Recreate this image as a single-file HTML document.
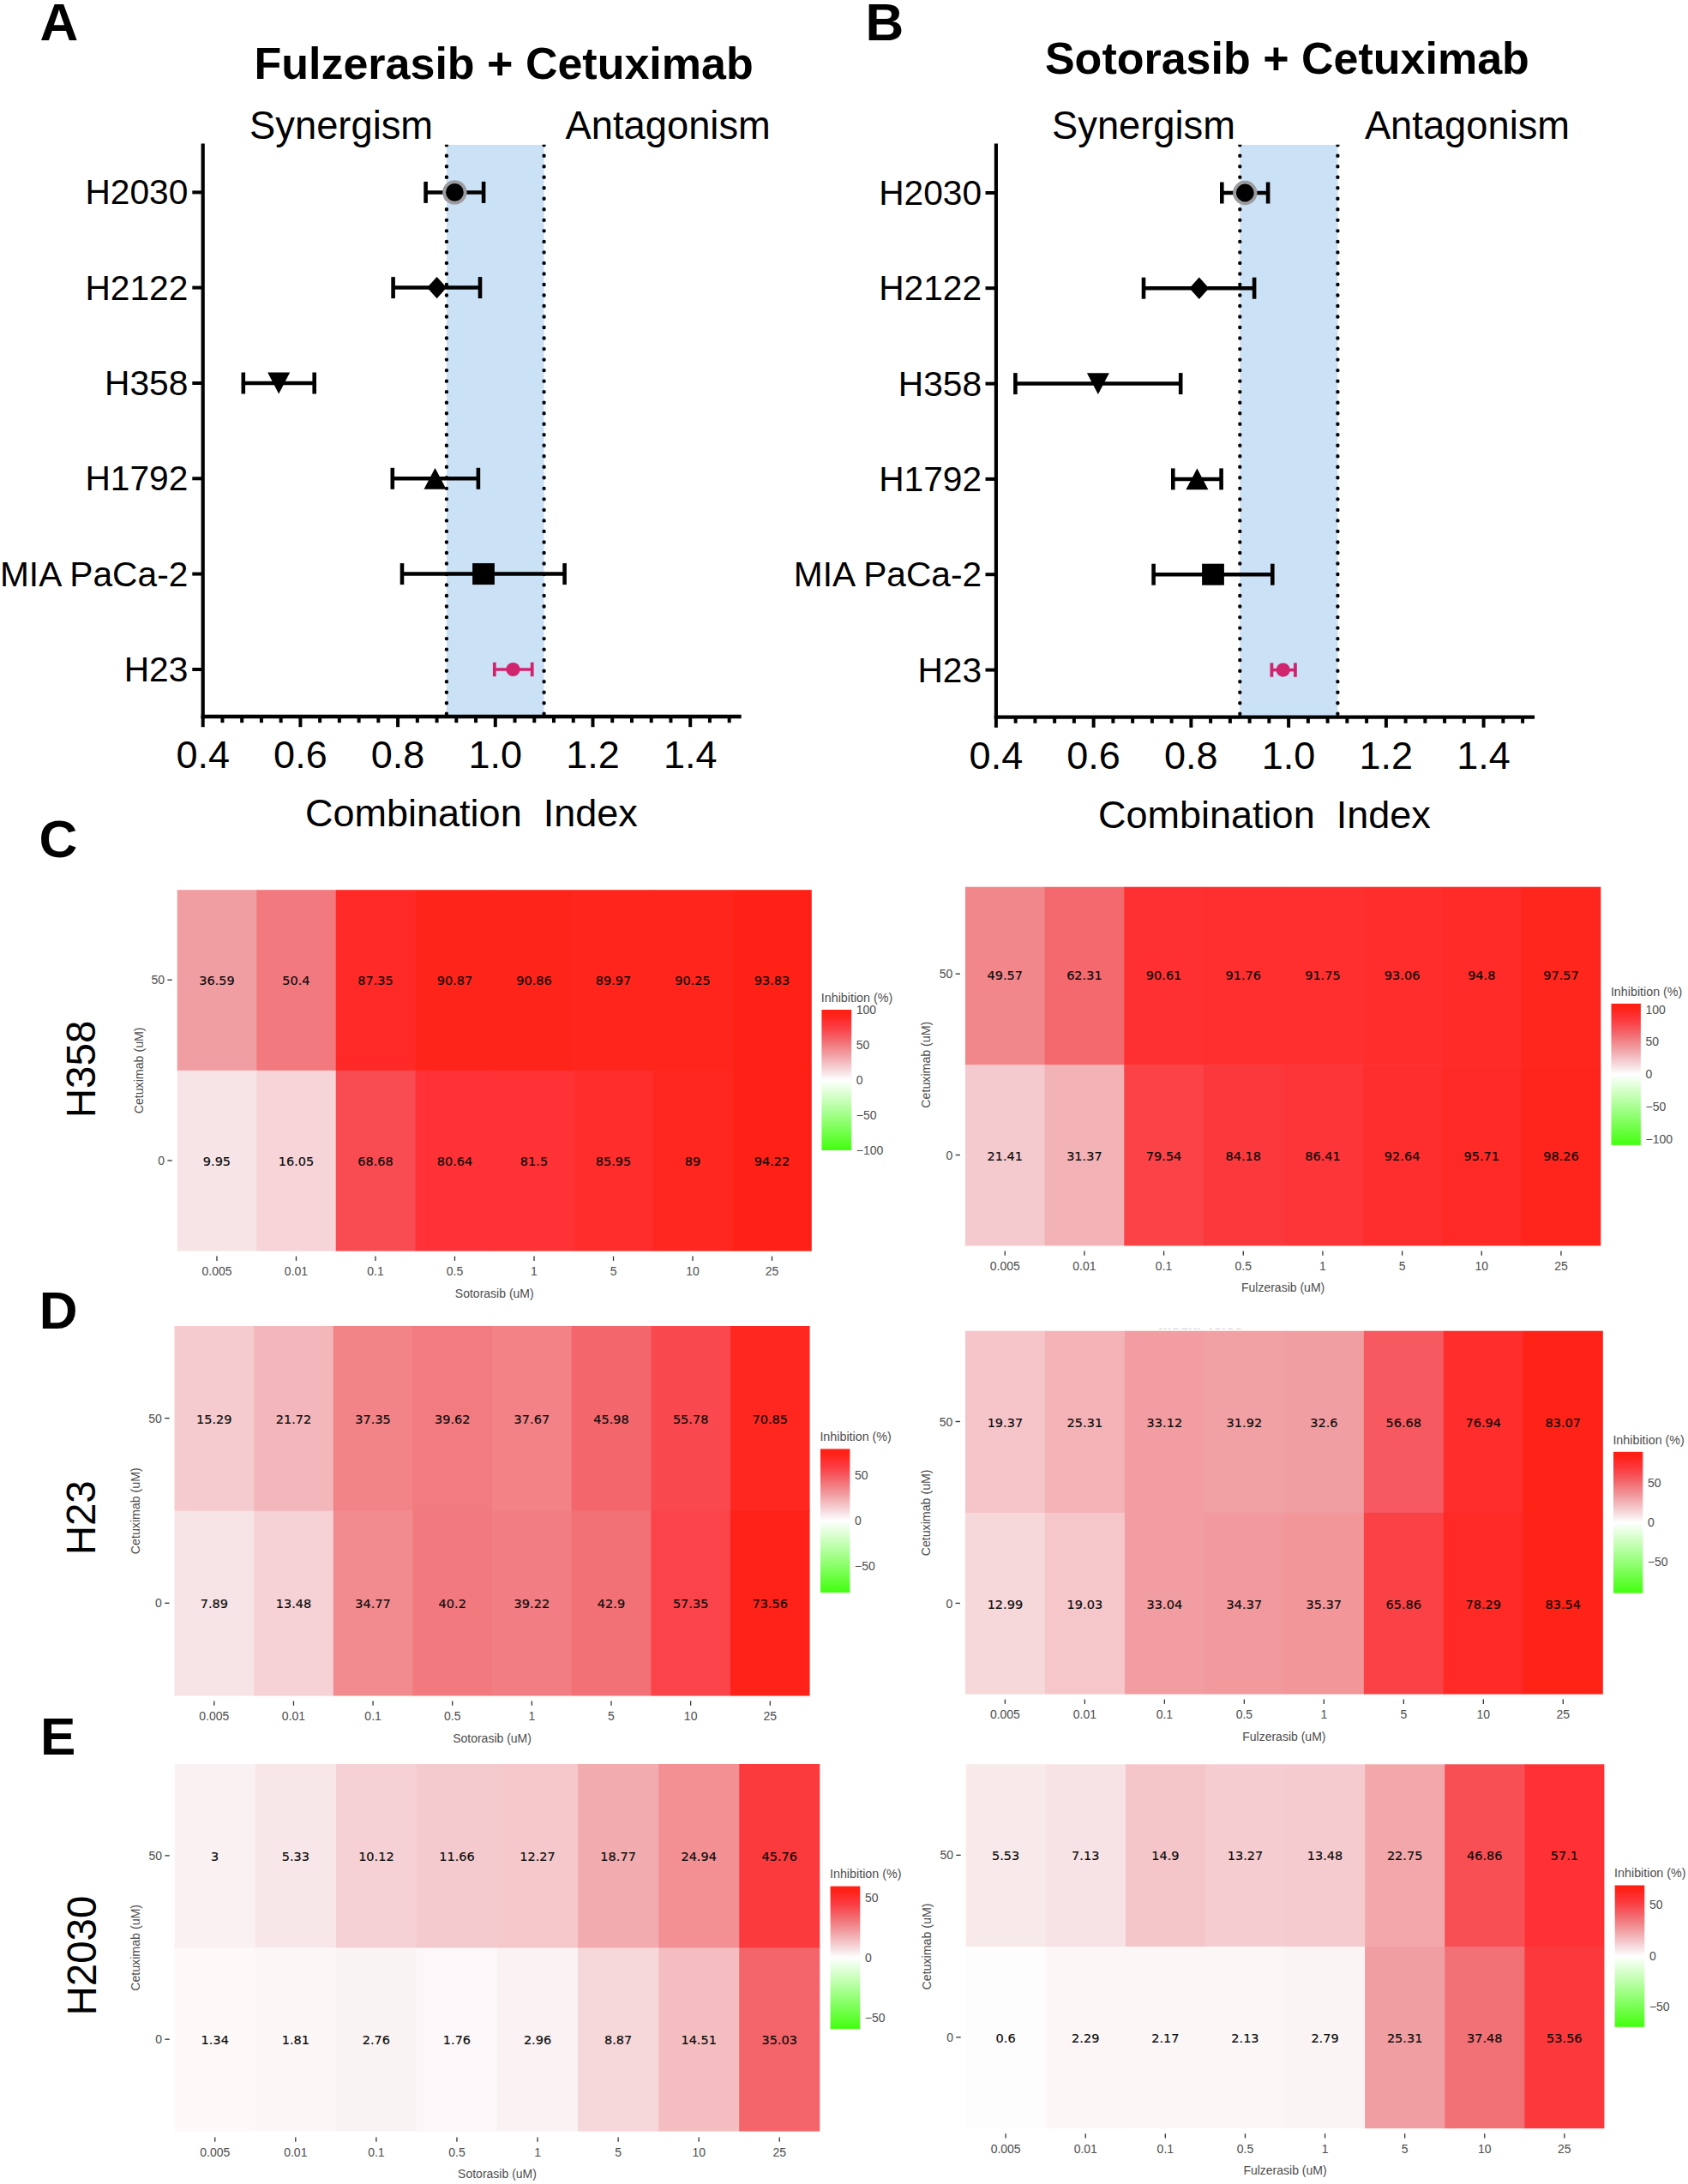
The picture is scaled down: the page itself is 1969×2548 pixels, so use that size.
<!DOCTYPE html>
<html lang="en">
<head>
<meta charset="utf-8">
<title>Combination index and dose-response matrices</title>
<style>
html,body{margin:0;padding:0;background:#fff;}
body{width:1969px;height:2548px;overflow:hidden;}
svg{display:block;}
text{white-space:pre;}
</style>
</head>
<body>
<svg width="1969" height="2548" viewBox="0 0 1969 2548">
<rect x="0" y="0" width="1969" height="2548" fill="#FFFFFF"/>
<clipPath id="cb"><rect x="0" y="168.7" width="1969" height="700"/></clipPath>
<rect x="520.90" y="169.00" width="113.70" height="665.00" fill="#CBE1F6"/>
<line x1="520.90" y1="169.2" x2="520.90" y2="834.00" stroke="#000" stroke-width="4.4" stroke-linecap="round" stroke-dasharray="0 12.52" clip-path="url(#cb)"/>
<line x1="634.60" y1="169.2" x2="634.60" y2="834.00" stroke="#000" stroke-width="4.4" stroke-linecap="round" stroke-dasharray="0 12.52" clip-path="url(#cb)"/>
<line x1="236.70" y1="167.40" x2="236.70" y2="838.20" stroke="#000" stroke-width="4.2" />
<line x1="234.60" y1="836.00" x2="864.65" y2="836.00" stroke="#000" stroke-width="4.4" />
<line x1="236.70" y1="836.00" x2="236.70" y2="848.20" stroke="#000" stroke-width="4.0" />
<text x="236.70" y="896.10" font-family='"Liberation Sans", Arial, Helvetica, sans-serif' font-size="45" font-weight="normal" text-anchor="middle" fill="#000" >0.4</text>
<line x1="259.44" y1="836.00" x2="259.44" y2="843.20" stroke="#000" stroke-width="4.0" />
<line x1="282.18" y1="836.00" x2="282.18" y2="843.20" stroke="#000" stroke-width="4.0" />
<line x1="304.92" y1="836.00" x2="304.92" y2="843.20" stroke="#000" stroke-width="4.0" />
<line x1="327.66" y1="836.00" x2="327.66" y2="843.20" stroke="#000" stroke-width="4.0" />
<line x1="350.40" y1="836.00" x2="350.40" y2="848.20" stroke="#000" stroke-width="4.0" />
<text x="350.40" y="896.10" font-family='"Liberation Sans", Arial, Helvetica, sans-serif' font-size="45" font-weight="normal" text-anchor="middle" fill="#000" >0.6</text>
<line x1="373.14" y1="836.00" x2="373.14" y2="843.20" stroke="#000" stroke-width="4.0" />
<line x1="395.88" y1="836.00" x2="395.88" y2="843.20" stroke="#000" stroke-width="4.0" />
<line x1="418.62" y1="836.00" x2="418.62" y2="843.20" stroke="#000" stroke-width="4.0" />
<line x1="441.36" y1="836.00" x2="441.36" y2="843.20" stroke="#000" stroke-width="4.0" />
<line x1="464.10" y1="836.00" x2="464.10" y2="848.20" stroke="#000" stroke-width="4.0" />
<text x="464.10" y="896.10" font-family='"Liberation Sans", Arial, Helvetica, sans-serif' font-size="45" font-weight="normal" text-anchor="middle" fill="#000" >0.8</text>
<line x1="486.84" y1="836.00" x2="486.84" y2="843.20" stroke="#000" stroke-width="4.0" />
<line x1="509.58" y1="836.00" x2="509.58" y2="843.20" stroke="#000" stroke-width="4.0" />
<line x1="532.32" y1="836.00" x2="532.32" y2="843.20" stroke="#000" stroke-width="4.0" />
<line x1="555.06" y1="836.00" x2="555.06" y2="843.20" stroke="#000" stroke-width="4.0" />
<line x1="577.80" y1="836.00" x2="577.80" y2="848.20" stroke="#000" stroke-width="4.0" />
<text x="577.80" y="896.10" font-family='"Liberation Sans", Arial, Helvetica, sans-serif' font-size="45" font-weight="normal" text-anchor="middle" fill="#000" >1.0</text>
<line x1="600.54" y1="836.00" x2="600.54" y2="843.20" stroke="#000" stroke-width="4.0" />
<line x1="623.28" y1="836.00" x2="623.28" y2="843.20" stroke="#000" stroke-width="4.0" />
<line x1="646.02" y1="836.00" x2="646.02" y2="843.20" stroke="#000" stroke-width="4.0" />
<line x1="668.76" y1="836.00" x2="668.76" y2="843.20" stroke="#000" stroke-width="4.0" />
<line x1="691.50" y1="836.00" x2="691.50" y2="848.20" stroke="#000" stroke-width="4.0" />
<text x="691.50" y="896.10" font-family='"Liberation Sans", Arial, Helvetica, sans-serif' font-size="45" font-weight="normal" text-anchor="middle" fill="#000" >1.2</text>
<line x1="714.24" y1="836.00" x2="714.24" y2="843.20" stroke="#000" stroke-width="4.0" />
<line x1="736.98" y1="836.00" x2="736.98" y2="843.20" stroke="#000" stroke-width="4.0" />
<line x1="759.72" y1="836.00" x2="759.72" y2="843.20" stroke="#000" stroke-width="4.0" />
<line x1="782.46" y1="836.00" x2="782.46" y2="843.20" stroke="#000" stroke-width="4.0" />
<line x1="805.20" y1="836.00" x2="805.20" y2="848.20" stroke="#000" stroke-width="4.0" />
<text x="805.20" y="896.10" font-family='"Liberation Sans", Arial, Helvetica, sans-serif' font-size="45" font-weight="normal" text-anchor="middle" fill="#000" >1.4</text>
<line x1="827.94" y1="836.00" x2="827.94" y2="843.20" stroke="#000" stroke-width="4.0" />
<line x1="850.68" y1="836.00" x2="850.68" y2="843.20" stroke="#000" stroke-width="4.0" />
<line x1="224.30" y1="224.40" x2="236.70" y2="224.40" stroke="#000" stroke-width="4.0" />
<text x="219.30" y="238.40" font-family='"Liberation Sans", Arial, Helvetica, sans-serif' font-size="40.7" font-weight="normal" text-anchor="end" fill="#000" >H2030</text>
<line x1="224.30" y1="335.60" x2="236.70" y2="335.60" stroke="#000" stroke-width="4.0" />
<text x="219.30" y="349.60" font-family='"Liberation Sans", Arial, Helvetica, sans-serif' font-size="40.7" font-weight="normal" text-anchor="end" fill="#000" >H2122</text>
<line x1="224.30" y1="447.00" x2="236.70" y2="447.00" stroke="#000" stroke-width="4.0" />
<text x="219.30" y="461.00" font-family='"Liberation Sans", Arial, Helvetica, sans-serif' font-size="40.7" font-weight="normal" text-anchor="end" fill="#000" >H358</text>
<line x1="224.30" y1="558.30" x2="236.70" y2="558.30" stroke="#000" stroke-width="4.0" />
<text x="219.30" y="572.30" font-family='"Liberation Sans", Arial, Helvetica, sans-serif' font-size="40.7" font-weight="normal" text-anchor="end" fill="#000" >H1792</text>
<line x1="224.30" y1="669.60" x2="236.70" y2="669.60" stroke="#000" stroke-width="4.0" />
<text x="219.30" y="683.60" font-family='"Liberation Sans", Arial, Helvetica, sans-serif' font-size="40.7" font-weight="normal" text-anchor="end" fill="#000" >MIA PaCa-2</text>
<line x1="224.30" y1="781.00" x2="236.70" y2="781.00" stroke="#000" stroke-width="4.0" />
<text x="219.30" y="795.00" font-family='"Liberation Sans", Arial, Helvetica, sans-serif' font-size="40.7" font-weight="normal" text-anchor="end" fill="#000" >H23</text>
<text x="587.60" y="91.80" font-family='"Liberation Sans", Arial, Helvetica, sans-serif' font-size="52" font-weight="bold" text-anchor="middle" fill="#000" >Fulzerasib + Cetuximab</text>
<text x="398.10" y="162.30" font-family='"Liberation Sans", Arial, Helvetica, sans-serif' font-size="45.3" font-weight="normal" text-anchor="middle" fill="#000" >Synergism</text>
<text x="779.20" y="162.30" font-family='"Liberation Sans", Arial, Helvetica, sans-serif' font-size="45.3" font-weight="normal" text-anchor="middle" fill="#000" >Antagonism</text>
<text x="549.90" y="963.70" font-family='"Liberation Sans", Arial, Helvetica, sans-serif' font-size="45" text-anchor="middle" fill="#000" xml:space="preserve">Combination  Index</text>
<line x1="496.60" y1="224.40" x2="564.10" y2="224.40" stroke="#000" stroke-width="4.5" />
<line x1="496.60" y1="211.90" x2="496.60" y2="236.90" stroke="#000" stroke-width="4.6" />
<line x1="564.10" y1="211.90" x2="564.10" y2="236.90" stroke="#000" stroke-width="4.6" />
<circle cx="530.40" cy="224.40" r="12.3" fill="#000" stroke="#9C9CA0" stroke-width="3.8"/>
<line x1="458.60" y1="335.60" x2="560.00" y2="335.60" stroke="#000" stroke-width="4.5" />
<line x1="458.60" y1="323.10" x2="458.60" y2="348.10" stroke="#000" stroke-width="4.6" />
<line x1="560.00" y1="323.10" x2="560.00" y2="348.10" stroke="#000" stroke-width="4.6" />
<polygon points="498.20,335.60 509.60,322.90 521.00,335.60 509.60,348.30" fill="#000"/>
<line x1="283.80" y1="447.00" x2="366.70" y2="447.00" stroke="#000" stroke-width="4.5" />
<line x1="283.80" y1="434.50" x2="283.80" y2="459.50" stroke="#000" stroke-width="4.6" />
<line x1="366.70" y1="434.50" x2="366.70" y2="459.50" stroke="#000" stroke-width="4.6" />
<polygon points="312.20,434.60 338.20,434.60 325.20,459.40" fill="#000"/>
<line x1="457.80" y1="558.30" x2="557.90" y2="558.30" stroke="#000" stroke-width="4.5" />
<line x1="457.80" y1="545.80" x2="457.80" y2="570.80" stroke="#000" stroke-width="4.6" />
<line x1="557.90" y1="545.80" x2="557.90" y2="570.80" stroke="#000" stroke-width="4.6" />
<polygon points="494.50,570.70 520.50,570.70 507.50,545.90" fill="#000"/>
<line x1="469.00" y1="669.60" x2="658.60" y2="669.60" stroke="#000" stroke-width="4.5" />
<line x1="469.00" y1="657.10" x2="469.00" y2="682.10" stroke="#000" stroke-width="4.6" />
<line x1="658.60" y1="657.10" x2="658.60" y2="682.10" stroke="#000" stroke-width="4.6" />
<rect x="551.10" y="657.10" width="25.80" height="25.00" fill="#000"/>
<line x1="576.80" y1="781.00" x2="620.70" y2="781.00" stroke="#D1246E" stroke-width="3.6" />
<line x1="576.80" y1="772.80" x2="576.80" y2="789.20" stroke="#D1246E" stroke-width="3.8" />
<line x1="620.70" y1="772.80" x2="620.70" y2="789.20" stroke="#D1246E" stroke-width="3.8" />
<circle cx="598.50" cy="781.00" r="8.1" fill="#D1246E"/>
<rect x="1446.30" y="169.00" width="114.10" height="665.60" fill="#CBE1F6"/>
<line x1="1446.30" y1="169.2" x2="1446.30" y2="834.60" stroke="#000" stroke-width="4.4" stroke-linecap="round" stroke-dasharray="0 12.52" clip-path="url(#cb)"/>
<line x1="1560.40" y1="169.2" x2="1560.40" y2="834.60" stroke="#000" stroke-width="4.4" stroke-linecap="round" stroke-dasharray="0 12.52" clip-path="url(#cb)"/>
<line x1="1161.90" y1="167.40" x2="1161.90" y2="838.80" stroke="#000" stroke-width="4.2" />
<line x1="1159.80" y1="836.60" x2="1790.07" y2="836.60" stroke="#000" stroke-width="4.4" />
<line x1="1161.90" y1="836.60" x2="1161.90" y2="848.80" stroke="#000" stroke-width="4.0" />
<text x="1161.90" y="897.00" font-family='"Liberation Sans", Arial, Helvetica, sans-serif' font-size="45" font-weight="normal" text-anchor="middle" fill="#000" >0.4</text>
<line x1="1184.65" y1="836.60" x2="1184.65" y2="843.80" stroke="#000" stroke-width="4.0" />
<line x1="1207.40" y1="836.60" x2="1207.40" y2="843.80" stroke="#000" stroke-width="4.0" />
<line x1="1230.14" y1="836.60" x2="1230.14" y2="843.80" stroke="#000" stroke-width="4.0" />
<line x1="1252.89" y1="836.60" x2="1252.89" y2="843.80" stroke="#000" stroke-width="4.0" />
<line x1="1275.64" y1="836.60" x2="1275.64" y2="848.80" stroke="#000" stroke-width="4.0" />
<text x="1275.64" y="897.00" font-family='"Liberation Sans", Arial, Helvetica, sans-serif' font-size="45" font-weight="normal" text-anchor="middle" fill="#000" >0.6</text>
<line x1="1298.39" y1="836.60" x2="1298.39" y2="843.80" stroke="#000" stroke-width="4.0" />
<line x1="1321.14" y1="836.60" x2="1321.14" y2="843.80" stroke="#000" stroke-width="4.0" />
<line x1="1343.88" y1="836.60" x2="1343.88" y2="843.80" stroke="#000" stroke-width="4.0" />
<line x1="1366.63" y1="836.60" x2="1366.63" y2="843.80" stroke="#000" stroke-width="4.0" />
<line x1="1389.38" y1="836.60" x2="1389.38" y2="848.80" stroke="#000" stroke-width="4.0" />
<text x="1389.38" y="897.00" font-family='"Liberation Sans", Arial, Helvetica, sans-serif' font-size="45" font-weight="normal" text-anchor="middle" fill="#000" >0.8</text>
<line x1="1412.13" y1="836.60" x2="1412.13" y2="843.80" stroke="#000" stroke-width="4.0" />
<line x1="1434.88" y1="836.60" x2="1434.88" y2="843.80" stroke="#000" stroke-width="4.0" />
<line x1="1457.62" y1="836.60" x2="1457.62" y2="843.80" stroke="#000" stroke-width="4.0" />
<line x1="1480.37" y1="836.60" x2="1480.37" y2="843.80" stroke="#000" stroke-width="4.0" />
<line x1="1503.12" y1="836.60" x2="1503.12" y2="848.80" stroke="#000" stroke-width="4.0" />
<text x="1503.12" y="897.00" font-family='"Liberation Sans", Arial, Helvetica, sans-serif' font-size="45" font-weight="normal" text-anchor="middle" fill="#000" >1.0</text>
<line x1="1525.87" y1="836.60" x2="1525.87" y2="843.80" stroke="#000" stroke-width="4.0" />
<line x1="1548.62" y1="836.60" x2="1548.62" y2="843.80" stroke="#000" stroke-width="4.0" />
<line x1="1571.36" y1="836.60" x2="1571.36" y2="843.80" stroke="#000" stroke-width="4.0" />
<line x1="1594.11" y1="836.60" x2="1594.11" y2="843.80" stroke="#000" stroke-width="4.0" />
<line x1="1616.86" y1="836.60" x2="1616.86" y2="848.80" stroke="#000" stroke-width="4.0" />
<text x="1616.86" y="897.00" font-family='"Liberation Sans", Arial, Helvetica, sans-serif' font-size="45" font-weight="normal" text-anchor="middle" fill="#000" >1.2</text>
<line x1="1639.61" y1="836.60" x2="1639.61" y2="843.80" stroke="#000" stroke-width="4.0" />
<line x1="1662.36" y1="836.60" x2="1662.36" y2="843.80" stroke="#000" stroke-width="4.0" />
<line x1="1685.10" y1="836.60" x2="1685.10" y2="843.80" stroke="#000" stroke-width="4.0" />
<line x1="1707.85" y1="836.60" x2="1707.85" y2="843.80" stroke="#000" stroke-width="4.0" />
<line x1="1730.60" y1="836.60" x2="1730.60" y2="848.80" stroke="#000" stroke-width="4.0" />
<text x="1730.60" y="897.00" font-family='"Liberation Sans", Arial, Helvetica, sans-serif' font-size="45" font-weight="normal" text-anchor="middle" fill="#000" >1.4</text>
<line x1="1753.35" y1="836.60" x2="1753.35" y2="843.80" stroke="#000" stroke-width="4.0" />
<line x1="1776.10" y1="836.60" x2="1776.10" y2="843.80" stroke="#000" stroke-width="4.0" />
<line x1="1149.50" y1="225.00" x2="1161.90" y2="225.00" stroke="#000" stroke-width="4.0" />
<text x="1145.10" y="239.00" font-family='"Liberation Sans", Arial, Helvetica, sans-serif' font-size="40.7" font-weight="normal" text-anchor="end" fill="#000" >H2030</text>
<line x1="1149.50" y1="336.20" x2="1161.90" y2="336.20" stroke="#000" stroke-width="4.0" />
<text x="1145.10" y="350.20" font-family='"Liberation Sans", Arial, Helvetica, sans-serif' font-size="40.7" font-weight="normal" text-anchor="end" fill="#000" >H2122</text>
<line x1="1149.50" y1="447.60" x2="1161.90" y2="447.60" stroke="#000" stroke-width="4.0" />
<text x="1145.10" y="461.60" font-family='"Liberation Sans", Arial, Helvetica, sans-serif' font-size="40.7" font-weight="normal" text-anchor="end" fill="#000" >H358</text>
<line x1="1149.50" y1="558.90" x2="1161.90" y2="558.90" stroke="#000" stroke-width="4.0" />
<text x="1145.10" y="572.90" font-family='"Liberation Sans", Arial, Helvetica, sans-serif' font-size="40.7" font-weight="normal" text-anchor="end" fill="#000" >H1792</text>
<line x1="1149.50" y1="670.20" x2="1161.90" y2="670.20" stroke="#000" stroke-width="4.0" />
<text x="1145.10" y="684.20" font-family='"Liberation Sans", Arial, Helvetica, sans-serif' font-size="40.7" font-weight="normal" text-anchor="end" fill="#000" >MIA PaCa-2</text>
<line x1="1149.50" y1="781.60" x2="1161.90" y2="781.60" stroke="#000" stroke-width="4.0" />
<text x="1145.10" y="795.60" font-family='"Liberation Sans", Arial, Helvetica, sans-serif' font-size="40.7" font-weight="normal" text-anchor="end" fill="#000" >H23</text>
<text x="1501.40" y="86.10" font-family='"Liberation Sans", Arial, Helvetica, sans-serif' font-size="52" font-weight="bold" text-anchor="middle" fill="#000" >Sotorasib + Cetuximab</text>
<text x="1334.00" y="162.30" font-family='"Liberation Sans", Arial, Helvetica, sans-serif' font-size="45.3" font-weight="normal" text-anchor="middle" fill="#000" >Synergism</text>
<text x="1711.50" y="162.30" font-family='"Liberation Sans", Arial, Helvetica, sans-serif' font-size="45.3" font-weight="normal" text-anchor="middle" fill="#000" >Antagonism</text>
<text x="1474.90" y="965.80" font-family='"Liberation Sans", Arial, Helvetica, sans-serif' font-size="45" text-anchor="middle" fill="#000" xml:space="preserve">Combination  Index</text>
<line x1="1425.30" y1="225.00" x2="1479.10" y2="225.00" stroke="#000" stroke-width="4.5" />
<line x1="1425.30" y1="212.50" x2="1425.30" y2="237.50" stroke="#000" stroke-width="4.6" />
<line x1="1479.10" y1="212.50" x2="1479.10" y2="237.50" stroke="#000" stroke-width="4.6" />
<circle cx="1452.30" cy="225.00" r="12.3" fill="#000" stroke="#9C9CA0" stroke-width="3.8"/>
<line x1="1334.00" y1="336.20" x2="1463.10" y2="336.20" stroke="#000" stroke-width="4.5" />
<line x1="1334.00" y1="323.70" x2="1334.00" y2="348.70" stroke="#000" stroke-width="4.6" />
<line x1="1463.10" y1="323.70" x2="1463.10" y2="348.70" stroke="#000" stroke-width="4.6" />
<polygon points="1387.40,336.20 1398.80,323.50 1410.20,336.20 1398.80,348.90" fill="#000"/>
<line x1="1184.40" y1="447.60" x2="1377.20" y2="447.60" stroke="#000" stroke-width="4.5" />
<line x1="1184.40" y1="435.10" x2="1184.40" y2="460.10" stroke="#000" stroke-width="4.6" />
<line x1="1377.20" y1="435.10" x2="1377.20" y2="460.10" stroke="#000" stroke-width="4.6" />
<polygon points="1267.90,435.20 1293.90,435.20 1280.90,460.00" fill="#000"/>
<line x1="1368.30" y1="558.90" x2="1424.60" y2="558.90" stroke="#000" stroke-width="4.5" />
<line x1="1368.30" y1="546.40" x2="1368.30" y2="571.40" stroke="#000" stroke-width="4.6" />
<line x1="1424.60" y1="546.40" x2="1424.60" y2="571.40" stroke="#000" stroke-width="4.6" />
<polygon points="1383.40,571.30 1409.40,571.30 1396.40,546.50" fill="#000"/>
<line x1="1345.60" y1="670.20" x2="1484.30" y2="670.20" stroke="#000" stroke-width="4.5" />
<line x1="1345.60" y1="657.70" x2="1345.60" y2="682.70" stroke="#000" stroke-width="4.6" />
<line x1="1484.30" y1="657.70" x2="1484.30" y2="682.70" stroke="#000" stroke-width="4.6" />
<rect x="1402.10" y="657.70" width="25.80" height="25.00" fill="#000"/>
<line x1="1483.40" y1="781.60" x2="1510.90" y2="781.60" stroke="#D1246E" stroke-width="3.6" />
<line x1="1483.40" y1="773.40" x2="1483.40" y2="789.80" stroke="#D1246E" stroke-width="3.8" />
<line x1="1510.90" y1="773.40" x2="1510.90" y2="789.80" stroke="#D1246E" stroke-width="3.8" />
<circle cx="1496.70" cy="781.60" r="8.1" fill="#D1246E"/>
<text x="46.60" y="47.40" font-family='"Liberation Sans", Arial, Helvetica, sans-serif' font-size="62" font-weight="bold" text-anchor="start" fill="#000" >A</text>
<text x="1009.40" y="46.80" font-family='"Liberation Sans", Arial, Helvetica, sans-serif' font-size="62" font-weight="bold" text-anchor="start" fill="#000" >B</text>
<text x="45.60" y="1000.00" font-family='"Liberation Sans", Arial, Helvetica, sans-serif' font-size="62" font-weight="bold" text-anchor="start" fill="#000" >C</text>
<text x="45.80" y="1550.40" font-family='"Liberation Sans", Arial, Helvetica, sans-serif' font-size="62" font-weight="bold" text-anchor="start" fill="#000" >D</text>
<text x="46.90" y="2046.70" font-family='"Liberation Sans", Arial, Helvetica, sans-serif' font-size="62" font-weight="bold" text-anchor="start" fill="#000" >E</text>
<rect x="206.70" y="1038.20" width="93.11" height="211.30" fill="#F19EA2"/>
<rect x="299.21" y="1038.20" width="93.11" height="211.30" fill="#F27A7F"/>
<rect x="391.72" y="1038.20" width="93.11" height="211.30" fill="#FF2A27"/>
<rect x="484.24" y="1038.20" width="93.11" height="211.30" fill="#FF241A"/>
<rect x="576.75" y="1038.20" width="93.11" height="211.30" fill="#FF241A"/>
<rect x="669.26" y="1038.20" width="93.11" height="211.30" fill="#FF251C"/>
<rect x="761.77" y="1038.20" width="93.11" height="211.30" fill="#FF251C"/>
<rect x="854.29" y="1038.20" width="92.51" height="211.30" fill="#FF2115"/>
<rect x="206.70" y="1248.90" width="93.11" height="210.70" fill="#F7E4E6"/>
<rect x="299.21" y="1248.90" width="93.11" height="210.70" fill="#F6D4D7"/>
<rect x="391.72" y="1248.90" width="93.11" height="210.70" fill="#F94C52"/>
<rect x="484.24" y="1248.90" width="93.11" height="210.70" fill="#FF3337"/>
<rect x="576.75" y="1248.90" width="93.11" height="210.70" fill="#FF3235"/>
<rect x="669.26" y="1248.90" width="93.11" height="210.70" fill="#FF2D2C"/>
<rect x="761.77" y="1248.90" width="93.11" height="210.70" fill="#FF2720"/>
<rect x="854.29" y="1248.90" width="92.51" height="210.70" fill="#FF2115"/>
<text x="252.96" y="1149.35" font-family='"DejaVu Sans", Verdana, "Liberation Sans", sans-serif' font-size="14.5" font-weight="normal" text-anchor="middle" fill="#0A0A0A" stroke="#0A0A0A" stroke-width="0.18">36.59</text>
<text x="345.47" y="1149.35" font-family='"DejaVu Sans", Verdana, "Liberation Sans", sans-serif' font-size="14.5" font-weight="normal" text-anchor="middle" fill="#0A0A0A" stroke="#0A0A0A" stroke-width="0.18">50.4</text>
<text x="437.98" y="1149.35" font-family='"DejaVu Sans", Verdana, "Liberation Sans", sans-serif' font-size="14.5" font-weight="normal" text-anchor="middle" fill="#0A0A0A" stroke="#0A0A0A" stroke-width="0.18">87.35</text>
<text x="530.49" y="1149.35" font-family='"DejaVu Sans", Verdana, "Liberation Sans", sans-serif' font-size="14.5" font-weight="normal" text-anchor="middle" fill="#0A0A0A" stroke="#0A0A0A" stroke-width="0.18">90.87</text>
<text x="623.01" y="1149.35" font-family='"DejaVu Sans", Verdana, "Liberation Sans", sans-serif' font-size="14.5" font-weight="normal" text-anchor="middle" fill="#0A0A0A" stroke="#0A0A0A" stroke-width="0.18">90.86</text>
<text x="715.52" y="1149.35" font-family='"DejaVu Sans", Verdana, "Liberation Sans", sans-serif' font-size="14.5" font-weight="normal" text-anchor="middle" fill="#0A0A0A" stroke="#0A0A0A" stroke-width="0.18">89.97</text>
<text x="808.03" y="1149.35" font-family='"DejaVu Sans", Verdana, "Liberation Sans", sans-serif' font-size="14.5" font-weight="normal" text-anchor="middle" fill="#0A0A0A" stroke="#0A0A0A" stroke-width="0.18">90.25</text>
<text x="900.54" y="1149.35" font-family='"DejaVu Sans", Verdana, "Liberation Sans", sans-serif' font-size="14.5" font-weight="normal" text-anchor="middle" fill="#0A0A0A" stroke="#0A0A0A" stroke-width="0.18">93.83</text>
<line x1="195.40" y1="1143.25" x2="200.80" y2="1143.25" stroke="#333333" stroke-width="1.3" />
<text transform="translate(192.10 1148.35) scale(1 1.04)" x="0" y="0" font-family='"Liberation Sans", Arial, Helvetica, sans-serif' font-size="14" font-weight="normal" text-anchor="end" fill="#4D4D4D" >50</text>
<text x="252.96" y="1360.05" font-family='"DejaVu Sans", Verdana, "Liberation Sans", sans-serif' font-size="14.5" font-weight="normal" text-anchor="middle" fill="#0A0A0A" stroke="#0A0A0A" stroke-width="0.18">9.95</text>
<text x="345.47" y="1360.05" font-family='"DejaVu Sans", Verdana, "Liberation Sans", sans-serif' font-size="14.5" font-weight="normal" text-anchor="middle" fill="#0A0A0A" stroke="#0A0A0A" stroke-width="0.18">16.05</text>
<text x="437.98" y="1360.05" font-family='"DejaVu Sans", Verdana, "Liberation Sans", sans-serif' font-size="14.5" font-weight="normal" text-anchor="middle" fill="#0A0A0A" stroke="#0A0A0A" stroke-width="0.18">68.68</text>
<text x="530.49" y="1360.05" font-family='"DejaVu Sans", Verdana, "Liberation Sans", sans-serif' font-size="14.5" font-weight="normal" text-anchor="middle" fill="#0A0A0A" stroke="#0A0A0A" stroke-width="0.18">80.64</text>
<text x="623.01" y="1360.05" font-family='"DejaVu Sans", Verdana, "Liberation Sans", sans-serif' font-size="14.5" font-weight="normal" text-anchor="middle" fill="#0A0A0A" stroke="#0A0A0A" stroke-width="0.18">81.5</text>
<text x="715.52" y="1360.05" font-family='"DejaVu Sans", Verdana, "Liberation Sans", sans-serif' font-size="14.5" font-weight="normal" text-anchor="middle" fill="#0A0A0A" stroke="#0A0A0A" stroke-width="0.18">85.95</text>
<text x="808.03" y="1360.05" font-family='"DejaVu Sans", Verdana, "Liberation Sans", sans-serif' font-size="14.5" font-weight="normal" text-anchor="middle" fill="#0A0A0A" stroke="#0A0A0A" stroke-width="0.18">89</text>
<text x="900.54" y="1360.05" font-family='"DejaVu Sans", Verdana, "Liberation Sans", sans-serif' font-size="14.5" font-weight="normal" text-anchor="middle" fill="#0A0A0A" stroke="#0A0A0A" stroke-width="0.18">94.22</text>
<line x1="195.40" y1="1353.95" x2="200.80" y2="1353.95" stroke="#333333" stroke-width="1.3" />
<text transform="translate(192.10 1359.05) scale(1 1.04)" x="0" y="0" font-family='"Liberation Sans", Arial, Helvetica, sans-serif' font-size="14" font-weight="normal" text-anchor="end" fill="#4D4D4D" >0</text>
<line x1="252.96" y1="1465.60" x2="252.96" y2="1470.90" stroke="#333333" stroke-width="1.3" />
<text transform="translate(252.96 1488.20) scale(1 1.04)" x="0" y="0" font-family='"Liberation Sans", Arial, Helvetica, sans-serif' font-size="14" font-weight="normal" text-anchor="middle" fill="#4D4D4D" >0.005</text>
<line x1="345.47" y1="1465.60" x2="345.47" y2="1470.90" stroke="#333333" stroke-width="1.3" />
<text transform="translate(345.47 1488.20) scale(1 1.04)" x="0" y="0" font-family='"Liberation Sans", Arial, Helvetica, sans-serif' font-size="14" font-weight="normal" text-anchor="middle" fill="#4D4D4D" >0.01</text>
<line x1="437.98" y1="1465.60" x2="437.98" y2="1470.90" stroke="#333333" stroke-width="1.3" />
<text transform="translate(437.98 1488.20) scale(1 1.04)" x="0" y="0" font-family='"Liberation Sans", Arial, Helvetica, sans-serif' font-size="14" font-weight="normal" text-anchor="middle" fill="#4D4D4D" >0.1</text>
<line x1="530.49" y1="1465.60" x2="530.49" y2="1470.90" stroke="#333333" stroke-width="1.3" />
<text transform="translate(530.49 1488.20) scale(1 1.04)" x="0" y="0" font-family='"Liberation Sans", Arial, Helvetica, sans-serif' font-size="14" font-weight="normal" text-anchor="middle" fill="#4D4D4D" >0.5</text>
<line x1="623.01" y1="1465.60" x2="623.01" y2="1470.90" stroke="#333333" stroke-width="1.3" />
<text transform="translate(623.01 1488.20) scale(1 1.04)" x="0" y="0" font-family='"Liberation Sans", Arial, Helvetica, sans-serif' font-size="14" font-weight="normal" text-anchor="middle" fill="#4D4D4D" >1</text>
<line x1="715.52" y1="1465.60" x2="715.52" y2="1470.90" stroke="#333333" stroke-width="1.3" />
<text transform="translate(715.52 1488.20) scale(1 1.04)" x="0" y="0" font-family='"Liberation Sans", Arial, Helvetica, sans-serif' font-size="14" font-weight="normal" text-anchor="middle" fill="#4D4D4D" >5</text>
<line x1="808.03" y1="1465.60" x2="808.03" y2="1470.90" stroke="#333333" stroke-width="1.3" />
<text transform="translate(808.03 1488.20) scale(1 1.04)" x="0" y="0" font-family='"Liberation Sans", Arial, Helvetica, sans-serif' font-size="14" font-weight="normal" text-anchor="middle" fill="#4D4D4D" >10</text>
<line x1="900.54" y1="1465.60" x2="900.54" y2="1470.90" stroke="#333333" stroke-width="1.3" />
<text transform="translate(900.54 1488.20) scale(1 1.04)" x="0" y="0" font-family='"Liberation Sans", Arial, Helvetica, sans-serif' font-size="14" font-weight="normal" text-anchor="middle" fill="#4D4D4D" >25</text>
<text x="576.75" y="1513.60" font-family='"Liberation Sans", Arial, Helvetica, sans-serif' font-size="14" font-weight="normal" text-anchor="middle" fill="#4D4D4D" >Sotorasib (uM)</text>
<text transform="translate(161.90 1248.90) rotate(-90)" x="0" y="5.00" font-family='"Liberation Sans", Arial, Helvetica, sans-serif' font-size="14.2" text-anchor="middle" fill="#4D4D4D">Cetuximab (uM)</text>
<linearGradient id="g1" x1="0" y1="0" x2="0" y2="1"><stop offset="0.0000" stop-color="#FF2116"/><stop offset="0.0208" stop-color="#FF2115"/><stop offset="0.0417" stop-color="#FF2319"/><stop offset="0.0625" stop-color="#FF2A26"/><stop offset="0.0833" stop-color="#FF3031"/><stop offset="0.1042" stop-color="#FD3539"/><stop offset="0.1250" stop-color="#FA3E42"/><stop offset="0.1458" stop-color="#F9474C"/><stop offset="0.1667" stop-color="#F85157"/><stop offset="0.1875" stop-color="#F55B61"/><stop offset="0.2083" stop-color="#F3666B"/><stop offset="0.2292" stop-color="#F27075"/><stop offset="0.2500" stop-color="#F27B80"/><stop offset="0.2708" stop-color="#F2868A"/><stop offset="0.2917" stop-color="#F29094"/><stop offset="0.3125" stop-color="#F19B9F"/><stop offset="0.3333" stop-color="#F2A6AA"/><stop offset="0.3542" stop-color="#F2B1B5"/><stop offset="0.3750" stop-color="#F4BCC0"/><stop offset="0.3958" stop-color="#F5C7CB"/><stop offset="0.4167" stop-color="#F6D2D6"/><stop offset="0.4375" stop-color="#F6DDE0"/><stop offset="0.4583" stop-color="#F8E9EA"/><stop offset="0.4792" stop-color="#FBF4F5"/><stop offset="0.5000" stop-color="#FFFFFF"/><stop offset="0.5208" stop-color="#F7FFF5"/><stop offset="0.5417" stop-color="#EFFFEB"/><stop offset="0.5625" stop-color="#E7FFE1"/><stop offset="0.5833" stop-color="#E0FFD7"/><stop offset="0.6042" stop-color="#D8FFCD"/><stop offset="0.6250" stop-color="#D0FFC3"/><stop offset="0.6458" stop-color="#C8FFB9"/><stop offset="0.6667" stop-color="#C0FFAF"/><stop offset="0.6875" stop-color="#B8FFA5"/><stop offset="0.7083" stop-color="#B0FF9B"/><stop offset="0.7292" stop-color="#A8FF91"/><stop offset="0.7500" stop-color="#A0FF86"/><stop offset="0.7708" stop-color="#99FF7C"/><stop offset="0.7917" stop-color="#91FF72"/><stop offset="0.8125" stop-color="#89FF68"/><stop offset="0.8333" stop-color="#81FF5E"/><stop offset="0.8542" stop-color="#79FF54"/><stop offset="0.8750" stop-color="#71FF4A"/><stop offset="0.8958" stop-color="#69FF40"/><stop offset="0.9167" stop-color="#62FF36"/><stop offset="0.9375" stop-color="#5AFF2C"/><stop offset="0.9583" stop-color="#52FF22"/><stop offset="0.9792" stop-color="#4AFF18"/><stop offset="1.0000" stop-color="#42FF0E"/></linearGradient>
<rect x="958.40" y="1178.00" width="34.80" height="164.00" fill="url(#g1)"/>
<text x="957.80" y="1168.80" font-family='"Liberation Sans", Arial, Helvetica, sans-serif' font-size="14.3" font-weight="normal" text-anchor="start" fill="#4D4D4D" >Inhibition (%)</text>
<text x="998.80" y="1182.80" font-family='"Liberation Sans", Arial, Helvetica, sans-serif' font-size="14" font-weight="normal" text-anchor="start" fill="#4D4D4D" >100</text>
<text x="998.80" y="1223.80" font-family='"Liberation Sans", Arial, Helvetica, sans-serif' font-size="14" font-weight="normal" text-anchor="start" fill="#4D4D4D" >50</text>
<text x="998.80" y="1264.80" font-family='"Liberation Sans", Arial, Helvetica, sans-serif' font-size="14" font-weight="normal" text-anchor="start" fill="#4D4D4D" >0</text>
<text x="998.80" y="1305.80" font-family='"Liberation Sans", Arial, Helvetica, sans-serif' font-size="14" font-weight="normal" text-anchor="start" fill="#4D4D4D" >−50</text>
<text x="998.80" y="1346.80" font-family='"Liberation Sans", Arial, Helvetica, sans-serif' font-size="14" font-weight="normal" text-anchor="start" fill="#4D4D4D" >−100</text>
<rect x="1125.90" y="1034.70" width="93.27" height="208.10" fill="#F2878B"/>
<rect x="1218.58" y="1034.70" width="93.27" height="208.10" fill="#F3696E"/>
<rect x="1311.25" y="1034.70" width="93.28" height="208.10" fill="#FF3032"/>
<rect x="1403.93" y="1034.70" width="93.27" height="208.10" fill="#FF2F30"/>
<rect x="1496.60" y="1034.70" width="93.28" height="208.10" fill="#FF2F30"/>
<rect x="1589.28" y="1034.70" width="93.27" height="208.10" fill="#FF2E2D"/>
<rect x="1681.95" y="1034.70" width="93.27" height="208.10" fill="#FF2B28"/>
<rect x="1774.62" y="1034.70" width="92.67" height="208.10" fill="#FF261E"/>
<rect x="1125.90" y="1242.20" width="93.27" height="211.20" fill="#F5CACE"/>
<rect x="1218.58" y="1242.20" width="93.27" height="211.20" fill="#F3B2B6"/>
<rect x="1311.25" y="1242.20" width="93.28" height="211.20" fill="#FA4247"/>
<rect x="1403.93" y="1242.20" width="93.27" height="211.20" fill="#FB393C"/>
<rect x="1496.60" y="1242.20" width="93.28" height="211.20" fill="#FD3539"/>
<rect x="1589.28" y="1242.20" width="93.27" height="211.20" fill="#FF2E2E"/>
<rect x="1681.95" y="1242.20" width="93.27" height="211.20" fill="#FF2925"/>
<rect x="1774.62" y="1242.20" width="92.67" height="211.20" fill="#FF251C"/>
<text x="1172.24" y="1142.65" font-family='"DejaVu Sans", Verdana, "Liberation Sans", sans-serif' font-size="14.5" font-weight="normal" text-anchor="middle" fill="#0A0A0A" stroke="#0A0A0A" stroke-width="0.18">49.57</text>
<text x="1264.91" y="1142.65" font-family='"DejaVu Sans", Verdana, "Liberation Sans", sans-serif' font-size="14.5" font-weight="normal" text-anchor="middle" fill="#0A0A0A" stroke="#0A0A0A" stroke-width="0.18">62.31</text>
<text x="1357.59" y="1142.65" font-family='"DejaVu Sans", Verdana, "Liberation Sans", sans-serif' font-size="14.5" font-weight="normal" text-anchor="middle" fill="#0A0A0A" stroke="#0A0A0A" stroke-width="0.18">90.61</text>
<text x="1450.26" y="1142.65" font-family='"DejaVu Sans", Verdana, "Liberation Sans", sans-serif' font-size="14.5" font-weight="normal" text-anchor="middle" fill="#0A0A0A" stroke="#0A0A0A" stroke-width="0.18">91.76</text>
<text x="1542.94" y="1142.65" font-family='"DejaVu Sans", Verdana, "Liberation Sans", sans-serif' font-size="14.5" font-weight="normal" text-anchor="middle" fill="#0A0A0A" stroke="#0A0A0A" stroke-width="0.18">91.75</text>
<text x="1635.61" y="1142.65" font-family='"DejaVu Sans", Verdana, "Liberation Sans", sans-serif' font-size="14.5" font-weight="normal" text-anchor="middle" fill="#0A0A0A" stroke="#0A0A0A" stroke-width="0.18">93.06</text>
<text x="1728.29" y="1142.65" font-family='"DejaVu Sans", Verdana, "Liberation Sans", sans-serif' font-size="14.5" font-weight="normal" text-anchor="middle" fill="#0A0A0A" stroke="#0A0A0A" stroke-width="0.18">94.8</text>
<text x="1820.96" y="1142.65" font-family='"DejaVu Sans", Verdana, "Liberation Sans", sans-serif' font-size="14.5" font-weight="normal" text-anchor="middle" fill="#0A0A0A" stroke="#0A0A0A" stroke-width="0.18">97.57</text>
<line x1="1114.60" y1="1136.15" x2="1120.00" y2="1136.15" stroke="#333333" stroke-width="1.3" />
<text transform="translate(1111.30 1141.25) scale(1 1.04)" x="0" y="0" font-family='"Liberation Sans", Arial, Helvetica, sans-serif' font-size="14" font-weight="normal" text-anchor="end" fill="#4D4D4D" >50</text>
<text x="1172.24" y="1353.60" font-family='"DejaVu Sans", Verdana, "Liberation Sans", sans-serif' font-size="14.5" font-weight="normal" text-anchor="middle" fill="#0A0A0A" stroke="#0A0A0A" stroke-width="0.18">21.41</text>
<text x="1264.91" y="1353.60" font-family='"DejaVu Sans", Verdana, "Liberation Sans", sans-serif' font-size="14.5" font-weight="normal" text-anchor="middle" fill="#0A0A0A" stroke="#0A0A0A" stroke-width="0.18">31.37</text>
<text x="1357.59" y="1353.60" font-family='"DejaVu Sans", Verdana, "Liberation Sans", sans-serif' font-size="14.5" font-weight="normal" text-anchor="middle" fill="#0A0A0A" stroke="#0A0A0A" stroke-width="0.18">79.54</text>
<text x="1450.26" y="1353.60" font-family='"DejaVu Sans", Verdana, "Liberation Sans", sans-serif' font-size="14.5" font-weight="normal" text-anchor="middle" fill="#0A0A0A" stroke="#0A0A0A" stroke-width="0.18">84.18</text>
<text x="1542.94" y="1353.60" font-family='"DejaVu Sans", Verdana, "Liberation Sans", sans-serif' font-size="14.5" font-weight="normal" text-anchor="middle" fill="#0A0A0A" stroke="#0A0A0A" stroke-width="0.18">86.41</text>
<text x="1635.61" y="1353.60" font-family='"DejaVu Sans", Verdana, "Liberation Sans", sans-serif' font-size="14.5" font-weight="normal" text-anchor="middle" fill="#0A0A0A" stroke="#0A0A0A" stroke-width="0.18">92.64</text>
<text x="1728.29" y="1353.60" font-family='"DejaVu Sans", Verdana, "Liberation Sans", sans-serif' font-size="14.5" font-weight="normal" text-anchor="middle" fill="#0A0A0A" stroke="#0A0A0A" stroke-width="0.18">95.71</text>
<text x="1820.96" y="1353.60" font-family='"DejaVu Sans", Verdana, "Liberation Sans", sans-serif' font-size="14.5" font-weight="normal" text-anchor="middle" fill="#0A0A0A" stroke="#0A0A0A" stroke-width="0.18">98.26</text>
<line x1="1114.60" y1="1347.50" x2="1120.00" y2="1347.50" stroke="#333333" stroke-width="1.3" />
<text transform="translate(1111.30 1352.60) scale(1 1.04)" x="0" y="0" font-family='"Liberation Sans", Arial, Helvetica, sans-serif' font-size="14" font-weight="normal" text-anchor="end" fill="#4D4D4D" >0</text>
<line x1="1172.24" y1="1459.40" x2="1172.24" y2="1464.70" stroke="#333333" stroke-width="1.3" />
<text transform="translate(1172.24 1482.00) scale(1 1.04)" x="0" y="0" font-family='"Liberation Sans", Arial, Helvetica, sans-serif' font-size="14" font-weight="normal" text-anchor="middle" fill="#4D4D4D" >0.005</text>
<line x1="1264.91" y1="1459.40" x2="1264.91" y2="1464.70" stroke="#333333" stroke-width="1.3" />
<text transform="translate(1264.91 1482.00) scale(1 1.04)" x="0" y="0" font-family='"Liberation Sans", Arial, Helvetica, sans-serif' font-size="14" font-weight="normal" text-anchor="middle" fill="#4D4D4D" >0.01</text>
<line x1="1357.59" y1="1459.40" x2="1357.59" y2="1464.70" stroke="#333333" stroke-width="1.3" />
<text transform="translate(1357.59 1482.00) scale(1 1.04)" x="0" y="0" font-family='"Liberation Sans", Arial, Helvetica, sans-serif' font-size="14" font-weight="normal" text-anchor="middle" fill="#4D4D4D" >0.1</text>
<line x1="1450.26" y1="1459.40" x2="1450.26" y2="1464.70" stroke="#333333" stroke-width="1.3" />
<text transform="translate(1450.26 1482.00) scale(1 1.04)" x="0" y="0" font-family='"Liberation Sans", Arial, Helvetica, sans-serif' font-size="14" font-weight="normal" text-anchor="middle" fill="#4D4D4D" >0.5</text>
<line x1="1542.94" y1="1459.40" x2="1542.94" y2="1464.70" stroke="#333333" stroke-width="1.3" />
<text transform="translate(1542.94 1482.00) scale(1 1.04)" x="0" y="0" font-family='"Liberation Sans", Arial, Helvetica, sans-serif' font-size="14" font-weight="normal" text-anchor="middle" fill="#4D4D4D" >1</text>
<line x1="1635.61" y1="1459.40" x2="1635.61" y2="1464.70" stroke="#333333" stroke-width="1.3" />
<text transform="translate(1635.61 1482.00) scale(1 1.04)" x="0" y="0" font-family='"Liberation Sans", Arial, Helvetica, sans-serif' font-size="14" font-weight="normal" text-anchor="middle" fill="#4D4D4D" >5</text>
<line x1="1728.29" y1="1459.40" x2="1728.29" y2="1464.70" stroke="#333333" stroke-width="1.3" />
<text transform="translate(1728.29 1482.00) scale(1 1.04)" x="0" y="0" font-family='"Liberation Sans", Arial, Helvetica, sans-serif' font-size="14" font-weight="normal" text-anchor="middle" fill="#4D4D4D" >10</text>
<line x1="1820.96" y1="1459.40" x2="1820.96" y2="1464.70" stroke="#333333" stroke-width="1.3" />
<text transform="translate(1820.96 1482.00) scale(1 1.04)" x="0" y="0" font-family='"Liberation Sans", Arial, Helvetica, sans-serif' font-size="14" font-weight="normal" text-anchor="middle" fill="#4D4D4D" >25</text>
<text x="1496.60" y="1507.40" font-family='"Liberation Sans", Arial, Helvetica, sans-serif' font-size="14" font-weight="normal" text-anchor="middle" fill="#4D4D4D" >Fulzerasib (uM)</text>
<text transform="translate(1079.90 1242.20) rotate(-90)" x="0" y="5.00" font-family='"Liberation Sans", Arial, Helvetica, sans-serif' font-size="14.2" text-anchor="middle" fill="#4D4D4D">Cetuximab (uM)</text>
<linearGradient id="g2" x1="0" y1="0" x2="0" y2="1"><stop offset="0.0000" stop-color="#FF2116"/><stop offset="0.0208" stop-color="#FF2115"/><stop offset="0.0417" stop-color="#FF2319"/><stop offset="0.0625" stop-color="#FF2A26"/><stop offset="0.0833" stop-color="#FF3031"/><stop offset="0.1042" stop-color="#FD3539"/><stop offset="0.1250" stop-color="#FA3E42"/><stop offset="0.1458" stop-color="#F9474C"/><stop offset="0.1667" stop-color="#F85157"/><stop offset="0.1875" stop-color="#F55B61"/><stop offset="0.2083" stop-color="#F3666B"/><stop offset="0.2292" stop-color="#F27075"/><stop offset="0.2500" stop-color="#F27B80"/><stop offset="0.2708" stop-color="#F2868A"/><stop offset="0.2917" stop-color="#F29094"/><stop offset="0.3125" stop-color="#F19B9F"/><stop offset="0.3333" stop-color="#F2A6AA"/><stop offset="0.3542" stop-color="#F2B1B5"/><stop offset="0.3750" stop-color="#F4BCC0"/><stop offset="0.3958" stop-color="#F5C7CB"/><stop offset="0.4167" stop-color="#F6D2D6"/><stop offset="0.4375" stop-color="#F6DDE0"/><stop offset="0.4583" stop-color="#F8E9EA"/><stop offset="0.4792" stop-color="#FBF4F5"/><stop offset="0.5000" stop-color="#FFFFFF"/><stop offset="0.5208" stop-color="#F7FFF5"/><stop offset="0.5417" stop-color="#EFFFEB"/><stop offset="0.5625" stop-color="#E7FFE1"/><stop offset="0.5833" stop-color="#E0FFD7"/><stop offset="0.6042" stop-color="#D8FFCD"/><stop offset="0.6250" stop-color="#D0FFC3"/><stop offset="0.6458" stop-color="#C8FFB9"/><stop offset="0.6667" stop-color="#C0FFAF"/><stop offset="0.6875" stop-color="#B8FFA5"/><stop offset="0.7083" stop-color="#B0FF9B"/><stop offset="0.7292" stop-color="#A8FF91"/><stop offset="0.7500" stop-color="#A0FF86"/><stop offset="0.7708" stop-color="#99FF7C"/><stop offset="0.7917" stop-color="#91FF72"/><stop offset="0.8125" stop-color="#89FF68"/><stop offset="0.8333" stop-color="#81FF5E"/><stop offset="0.8542" stop-color="#79FF54"/><stop offset="0.8750" stop-color="#71FF4A"/><stop offset="0.8958" stop-color="#69FF40"/><stop offset="0.9167" stop-color="#62FF36"/><stop offset="0.9375" stop-color="#5AFF2C"/><stop offset="0.9583" stop-color="#52FF22"/><stop offset="0.9792" stop-color="#4AFF18"/><stop offset="1.0000" stop-color="#42FF0E"/></linearGradient>
<rect x="1879.50" y="1170.90" width="34.40" height="165.00" fill="url(#g2)"/>
<text x="1878.90" y="1161.70" font-family='"Liberation Sans", Arial, Helvetica, sans-serif' font-size="14.3" font-weight="normal" text-anchor="start" fill="#4D4D4D" >Inhibition (%)</text>
<text x="1919.50" y="1182.51" font-family='"Liberation Sans", Arial, Helvetica, sans-serif' font-size="14" font-weight="normal" text-anchor="start" fill="#4D4D4D" >100</text>
<text x="1919.50" y="1220.36" font-family='"Liberation Sans", Arial, Helvetica, sans-serif' font-size="14" font-weight="normal" text-anchor="start" fill="#4D4D4D" >50</text>
<text x="1919.50" y="1258.20" font-family='"Liberation Sans", Arial, Helvetica, sans-serif' font-size="14" font-weight="normal" text-anchor="start" fill="#4D4D4D" >0</text>
<text x="1919.50" y="1296.04" font-family='"Liberation Sans", Arial, Helvetica, sans-serif' font-size="14" font-weight="normal" text-anchor="start" fill="#4D4D4D" >−50</text>
<text x="1919.50" y="1333.89" font-family='"Liberation Sans", Arial, Helvetica, sans-serif' font-size="14" font-weight="normal" text-anchor="start" fill="#4D4D4D" >−100</text>
<rect x="203.50" y="1547.00" width="93.24" height="216.30" fill="#F5CBCF"/>
<rect x="296.14" y="1547.00" width="93.24" height="216.30" fill="#F3B6BA"/>
<rect x="388.77" y="1547.00" width="93.24" height="216.30" fill="#F28387"/>
<rect x="481.41" y="1547.00" width="93.24" height="216.30" fill="#F27B80"/>
<rect x="574.05" y="1547.00" width="93.24" height="216.30" fill="#F28286"/>
<rect x="666.69" y="1547.00" width="93.24" height="216.30" fill="#F3676C"/>
<rect x="759.33" y="1547.00" width="93.24" height="216.30" fill="#F9494E"/>
<rect x="851.96" y="1547.00" width="92.64" height="216.30" fill="#FF2720"/>
<rect x="203.50" y="1762.70" width="93.24" height="215.80" fill="#F7E4E6"/>
<rect x="296.14" y="1762.70" width="93.24" height="215.80" fill="#F6D1D5"/>
<rect x="388.77" y="1762.70" width="93.24" height="215.80" fill="#F28B8F"/>
<rect x="481.41" y="1762.70" width="93.24" height="215.80" fill="#F27A7F"/>
<rect x="574.05" y="1762.70" width="93.24" height="215.80" fill="#F27D82"/>
<rect x="666.69" y="1762.70" width="93.24" height="215.80" fill="#F27176"/>
<rect x="759.33" y="1762.70" width="93.24" height="215.80" fill="#FA4449"/>
<rect x="851.96" y="1762.70" width="92.64" height="215.80" fill="#FF2218"/>
<text x="249.82" y="1660.65" font-family='"DejaVu Sans", Verdana, "Liberation Sans", sans-serif' font-size="14.5" font-weight="normal" text-anchor="middle" fill="#0A0A0A" stroke="#0A0A0A" stroke-width="0.18">15.29</text>
<text x="342.46" y="1660.65" font-family='"DejaVu Sans", Verdana, "Liberation Sans", sans-serif' font-size="14.5" font-weight="normal" text-anchor="middle" fill="#0A0A0A" stroke="#0A0A0A" stroke-width="0.18">21.72</text>
<text x="435.09" y="1660.65" font-family='"DejaVu Sans", Verdana, "Liberation Sans", sans-serif' font-size="14.5" font-weight="normal" text-anchor="middle" fill="#0A0A0A" stroke="#0A0A0A" stroke-width="0.18">37.35</text>
<text x="527.73" y="1660.65" font-family='"DejaVu Sans", Verdana, "Liberation Sans", sans-serif' font-size="14.5" font-weight="normal" text-anchor="middle" fill="#0A0A0A" stroke="#0A0A0A" stroke-width="0.18">39.62</text>
<text x="620.37" y="1660.65" font-family='"DejaVu Sans", Verdana, "Liberation Sans", sans-serif' font-size="14.5" font-weight="normal" text-anchor="middle" fill="#0A0A0A" stroke="#0A0A0A" stroke-width="0.18">37.67</text>
<text x="713.01" y="1660.65" font-family='"DejaVu Sans", Verdana, "Liberation Sans", sans-serif' font-size="14.5" font-weight="normal" text-anchor="middle" fill="#0A0A0A" stroke="#0A0A0A" stroke-width="0.18">45.98</text>
<text x="805.64" y="1660.65" font-family='"DejaVu Sans", Verdana, "Liberation Sans", sans-serif' font-size="14.5" font-weight="normal" text-anchor="middle" fill="#0A0A0A" stroke="#0A0A0A" stroke-width="0.18">55.78</text>
<text x="898.28" y="1660.65" font-family='"DejaVu Sans", Verdana, "Liberation Sans", sans-serif' font-size="14.5" font-weight="normal" text-anchor="middle" fill="#0A0A0A" stroke="#0A0A0A" stroke-width="0.18">70.85</text>
<line x1="192.20" y1="1654.55" x2="197.60" y2="1654.55" stroke="#333333" stroke-width="1.3" />
<text transform="translate(188.90 1659.65) scale(1 1.04)" x="0" y="0" font-family='"Liberation Sans", Arial, Helvetica, sans-serif' font-size="14" font-weight="normal" text-anchor="end" fill="#4D4D4D" >50</text>
<text x="249.82" y="1876.40" font-family='"DejaVu Sans", Verdana, "Liberation Sans", sans-serif' font-size="14.5" font-weight="normal" text-anchor="middle" fill="#0A0A0A" stroke="#0A0A0A" stroke-width="0.18">7.89</text>
<text x="342.46" y="1876.40" font-family='"DejaVu Sans", Verdana, "Liberation Sans", sans-serif' font-size="14.5" font-weight="normal" text-anchor="middle" fill="#0A0A0A" stroke="#0A0A0A" stroke-width="0.18">13.48</text>
<text x="435.09" y="1876.40" font-family='"DejaVu Sans", Verdana, "Liberation Sans", sans-serif' font-size="14.5" font-weight="normal" text-anchor="middle" fill="#0A0A0A" stroke="#0A0A0A" stroke-width="0.18">34.77</text>
<text x="527.73" y="1876.40" font-family='"DejaVu Sans", Verdana, "Liberation Sans", sans-serif' font-size="14.5" font-weight="normal" text-anchor="middle" fill="#0A0A0A" stroke="#0A0A0A" stroke-width="0.18">40.2</text>
<text x="620.37" y="1876.40" font-family='"DejaVu Sans", Verdana, "Liberation Sans", sans-serif' font-size="14.5" font-weight="normal" text-anchor="middle" fill="#0A0A0A" stroke="#0A0A0A" stroke-width="0.18">39.22</text>
<text x="713.01" y="1876.40" font-family='"DejaVu Sans", Verdana, "Liberation Sans", sans-serif' font-size="14.5" font-weight="normal" text-anchor="middle" fill="#0A0A0A" stroke="#0A0A0A" stroke-width="0.18">42.9</text>
<text x="805.64" y="1876.40" font-family='"DejaVu Sans", Verdana, "Liberation Sans", sans-serif' font-size="14.5" font-weight="normal" text-anchor="middle" fill="#0A0A0A" stroke="#0A0A0A" stroke-width="0.18">57.35</text>
<text x="898.28" y="1876.40" font-family='"DejaVu Sans", Verdana, "Liberation Sans", sans-serif' font-size="14.5" font-weight="normal" text-anchor="middle" fill="#0A0A0A" stroke="#0A0A0A" stroke-width="0.18">73.56</text>
<line x1="192.20" y1="1870.30" x2="197.60" y2="1870.30" stroke="#333333" stroke-width="1.3" />
<text transform="translate(188.90 1875.40) scale(1 1.04)" x="0" y="0" font-family='"Liberation Sans", Arial, Helvetica, sans-serif' font-size="14" font-weight="normal" text-anchor="end" fill="#4D4D4D" >0</text>
<line x1="249.82" y1="1984.50" x2="249.82" y2="1989.80" stroke="#333333" stroke-width="1.3" />
<text transform="translate(249.82 2007.10) scale(1 1.04)" x="0" y="0" font-family='"Liberation Sans", Arial, Helvetica, sans-serif' font-size="14" font-weight="normal" text-anchor="middle" fill="#4D4D4D" >0.005</text>
<line x1="342.46" y1="1984.50" x2="342.46" y2="1989.80" stroke="#333333" stroke-width="1.3" />
<text transform="translate(342.46 2007.10) scale(1 1.04)" x="0" y="0" font-family='"Liberation Sans", Arial, Helvetica, sans-serif' font-size="14" font-weight="normal" text-anchor="middle" fill="#4D4D4D" >0.01</text>
<line x1="435.09" y1="1984.50" x2="435.09" y2="1989.80" stroke="#333333" stroke-width="1.3" />
<text transform="translate(435.09 2007.10) scale(1 1.04)" x="0" y="0" font-family='"Liberation Sans", Arial, Helvetica, sans-serif' font-size="14" font-weight="normal" text-anchor="middle" fill="#4D4D4D" >0.1</text>
<line x1="527.73" y1="1984.50" x2="527.73" y2="1989.80" stroke="#333333" stroke-width="1.3" />
<text transform="translate(527.73 2007.10) scale(1 1.04)" x="0" y="0" font-family='"Liberation Sans", Arial, Helvetica, sans-serif' font-size="14" font-weight="normal" text-anchor="middle" fill="#4D4D4D" >0.5</text>
<line x1="620.37" y1="1984.50" x2="620.37" y2="1989.80" stroke="#333333" stroke-width="1.3" />
<text transform="translate(620.37 2007.10) scale(1 1.04)" x="0" y="0" font-family='"Liberation Sans", Arial, Helvetica, sans-serif' font-size="14" font-weight="normal" text-anchor="middle" fill="#4D4D4D" >1</text>
<line x1="713.01" y1="1984.50" x2="713.01" y2="1989.80" stroke="#333333" stroke-width="1.3" />
<text transform="translate(713.01 2007.10) scale(1 1.04)" x="0" y="0" font-family='"Liberation Sans", Arial, Helvetica, sans-serif' font-size="14" font-weight="normal" text-anchor="middle" fill="#4D4D4D" >5</text>
<line x1="805.64" y1="1984.50" x2="805.64" y2="1989.80" stroke="#333333" stroke-width="1.3" />
<text transform="translate(805.64 2007.10) scale(1 1.04)" x="0" y="0" font-family='"Liberation Sans", Arial, Helvetica, sans-serif' font-size="14" font-weight="normal" text-anchor="middle" fill="#4D4D4D" >10</text>
<line x1="898.28" y1="1984.50" x2="898.28" y2="1989.80" stroke="#333333" stroke-width="1.3" />
<text transform="translate(898.28 2007.10) scale(1 1.04)" x="0" y="0" font-family='"Liberation Sans", Arial, Helvetica, sans-serif' font-size="14" font-weight="normal" text-anchor="middle" fill="#4D4D4D" >25</text>
<text x="574.05" y="2032.50" font-family='"Liberation Sans", Arial, Helvetica, sans-serif' font-size="14" font-weight="normal" text-anchor="middle" fill="#4D4D4D" >Sotorasib (uM)</text>
<text transform="translate(157.50 1762.70) rotate(-90)" x="0" y="5.00" font-family='"Liberation Sans", Arial, Helvetica, sans-serif' font-size="14.2" text-anchor="middle" fill="#4D4D4D">Cetuximab (uM)</text>
<linearGradient id="g3" x1="0" y1="0" x2="0" y2="1"><stop offset="0.0000" stop-color="#FF2116"/><stop offset="0.0208" stop-color="#FF2115"/><stop offset="0.0417" stop-color="#FF2319"/><stop offset="0.0625" stop-color="#FF2A26"/><stop offset="0.0833" stop-color="#FF3031"/><stop offset="0.1042" stop-color="#FD3539"/><stop offset="0.1250" stop-color="#FA3E42"/><stop offset="0.1458" stop-color="#F9474C"/><stop offset="0.1667" stop-color="#F85157"/><stop offset="0.1875" stop-color="#F55B61"/><stop offset="0.2083" stop-color="#F3666B"/><stop offset="0.2292" stop-color="#F27075"/><stop offset="0.2500" stop-color="#F27B80"/><stop offset="0.2708" stop-color="#F2868A"/><stop offset="0.2917" stop-color="#F29094"/><stop offset="0.3125" stop-color="#F19B9F"/><stop offset="0.3333" stop-color="#F2A6AA"/><stop offset="0.3542" stop-color="#F2B1B5"/><stop offset="0.3750" stop-color="#F4BCC0"/><stop offset="0.3958" stop-color="#F5C7CB"/><stop offset="0.4167" stop-color="#F6D2D6"/><stop offset="0.4375" stop-color="#F6DDE0"/><stop offset="0.4583" stop-color="#F8E9EA"/><stop offset="0.4792" stop-color="#FBF4F5"/><stop offset="0.5000" stop-color="#FFFFFF"/><stop offset="0.5208" stop-color="#F7FFF5"/><stop offset="0.5417" stop-color="#EFFFEB"/><stop offset="0.5625" stop-color="#E7FFE1"/><stop offset="0.5833" stop-color="#E0FFD7"/><stop offset="0.6042" stop-color="#D8FFCD"/><stop offset="0.6250" stop-color="#D0FFC3"/><stop offset="0.6458" stop-color="#C8FFB9"/><stop offset="0.6667" stop-color="#C0FFAF"/><stop offset="0.6875" stop-color="#B8FFA5"/><stop offset="0.7083" stop-color="#B0FF9B"/><stop offset="0.7292" stop-color="#A8FF91"/><stop offset="0.7500" stop-color="#A0FF86"/><stop offset="0.7708" stop-color="#99FF7C"/><stop offset="0.7917" stop-color="#91FF72"/><stop offset="0.8125" stop-color="#89FF68"/><stop offset="0.8333" stop-color="#81FF5E"/><stop offset="0.8542" stop-color="#79FF54"/><stop offset="0.8750" stop-color="#71FF4A"/><stop offset="0.8958" stop-color="#69FF40"/><stop offset="0.9167" stop-color="#62FF36"/><stop offset="0.9375" stop-color="#5AFF2C"/><stop offset="0.9583" stop-color="#52FF22"/><stop offset="0.9792" stop-color="#4AFF18"/><stop offset="1.0000" stop-color="#42FF0E"/></linearGradient>
<rect x="957.00" y="1690.40" width="34.40" height="167.60" fill="url(#g3)"/>
<text x="956.40" y="1681.20" font-family='"Liberation Sans", Arial, Helvetica, sans-serif' font-size="14.3" font-weight="normal" text-anchor="start" fill="#4D4D4D" >Inhibition (%)</text>
<text x="997.00" y="1726.30" font-family='"Liberation Sans", Arial, Helvetica, sans-serif' font-size="14" font-weight="normal" text-anchor="start" fill="#4D4D4D" >50</text>
<text x="997.00" y="1779.00" font-family='"Liberation Sans", Arial, Helvetica, sans-serif' font-size="14" font-weight="normal" text-anchor="start" fill="#4D4D4D" >0</text>
<text x="997.00" y="1831.70" font-family='"Liberation Sans", Arial, Helvetica, sans-serif' font-size="14" font-weight="normal" text-anchor="start" fill="#4D4D4D" >−50</text>
<rect x="1125.90" y="1552.70" width="93.59" height="212.80" fill="#F5C5C9"/>
<rect x="1218.89" y="1552.70" width="93.59" height="212.80" fill="#F3B3B7"/>
<rect x="1311.88" y="1552.70" width="93.59" height="212.80" fill="#F19DA1"/>
<rect x="1404.86" y="1552.70" width="93.59" height="212.80" fill="#F1A0A4"/>
<rect x="1497.85" y="1552.70" width="93.59" height="212.80" fill="#F19EA2"/>
<rect x="1590.84" y="1552.70" width="93.59" height="212.80" fill="#F6595F"/>
<rect x="1683.83" y="1552.70" width="93.59" height="212.80" fill="#FF2D2C"/>
<rect x="1776.81" y="1552.70" width="92.99" height="212.80" fill="#FF2217"/>
<rect x="1125.90" y="1764.90" width="93.59" height="211.70" fill="#F6D8DB"/>
<rect x="1218.89" y="1764.90" width="93.59" height="211.70" fill="#F5C6CA"/>
<rect x="1311.88" y="1764.90" width="93.59" height="211.70" fill="#F19DA1"/>
<rect x="1404.86" y="1764.90" width="93.59" height="211.70" fill="#F1999D"/>
<rect x="1497.85" y="1764.90" width="93.59" height="211.70" fill="#F2969A"/>
<rect x="1590.84" y="1764.90" width="93.59" height="211.70" fill="#FA4145"/>
<rect x="1683.83" y="1764.90" width="93.59" height="211.70" fill="#FF2A26"/>
<rect x="1776.81" y="1764.90" width="92.99" height="211.70" fill="#FF2216"/>
<text x="1172.39" y="1664.60" font-family='"DejaVu Sans", Verdana, "Liberation Sans", sans-serif' font-size="14.5" font-weight="normal" text-anchor="middle" fill="#0A0A0A" stroke="#0A0A0A" stroke-width="0.18">19.37</text>
<text x="1265.38" y="1664.60" font-family='"DejaVu Sans", Verdana, "Liberation Sans", sans-serif' font-size="14.5" font-weight="normal" text-anchor="middle" fill="#0A0A0A" stroke="#0A0A0A" stroke-width="0.18">25.31</text>
<text x="1358.37" y="1664.60" font-family='"DejaVu Sans", Verdana, "Liberation Sans", sans-serif' font-size="14.5" font-weight="normal" text-anchor="middle" fill="#0A0A0A" stroke="#0A0A0A" stroke-width="0.18">33.12</text>
<text x="1451.36" y="1664.60" font-family='"DejaVu Sans", Verdana, "Liberation Sans", sans-serif' font-size="14.5" font-weight="normal" text-anchor="middle" fill="#0A0A0A" stroke="#0A0A0A" stroke-width="0.18">31.92</text>
<text x="1544.34" y="1664.60" font-family='"DejaVu Sans", Verdana, "Liberation Sans", sans-serif' font-size="14.5" font-weight="normal" text-anchor="middle" fill="#0A0A0A" stroke="#0A0A0A" stroke-width="0.18">32.6</text>
<text x="1637.33" y="1664.60" font-family='"DejaVu Sans", Verdana, "Liberation Sans", sans-serif' font-size="14.5" font-weight="normal" text-anchor="middle" fill="#0A0A0A" stroke="#0A0A0A" stroke-width="0.18">56.68</text>
<text x="1730.32" y="1664.60" font-family='"DejaVu Sans", Verdana, "Liberation Sans", sans-serif' font-size="14.5" font-weight="normal" text-anchor="middle" fill="#0A0A0A" stroke="#0A0A0A" stroke-width="0.18">76.94</text>
<text x="1823.31" y="1664.60" font-family='"DejaVu Sans", Verdana, "Liberation Sans", sans-serif' font-size="14.5" font-weight="normal" text-anchor="middle" fill="#0A0A0A" stroke="#0A0A0A" stroke-width="0.18">83.07</text>
<line x1="1114.60" y1="1658.50" x2="1120.00" y2="1658.50" stroke="#333333" stroke-width="1.3" />
<text transform="translate(1111.30 1663.60) scale(1 1.04)" x="0" y="0" font-family='"Liberation Sans", Arial, Helvetica, sans-serif' font-size="14" font-weight="normal" text-anchor="end" fill="#4D4D4D" >50</text>
<text x="1172.39" y="1876.55" font-family='"DejaVu Sans", Verdana, "Liberation Sans", sans-serif' font-size="14.5" font-weight="normal" text-anchor="middle" fill="#0A0A0A" stroke="#0A0A0A" stroke-width="0.18">12.99</text>
<text x="1265.38" y="1876.55" font-family='"DejaVu Sans", Verdana, "Liberation Sans", sans-serif' font-size="14.5" font-weight="normal" text-anchor="middle" fill="#0A0A0A" stroke="#0A0A0A" stroke-width="0.18">19.03</text>
<text x="1358.37" y="1876.55" font-family='"DejaVu Sans", Verdana, "Liberation Sans", sans-serif' font-size="14.5" font-weight="normal" text-anchor="middle" fill="#0A0A0A" stroke="#0A0A0A" stroke-width="0.18">33.04</text>
<text x="1451.36" y="1876.55" font-family='"DejaVu Sans", Verdana, "Liberation Sans", sans-serif' font-size="14.5" font-weight="normal" text-anchor="middle" fill="#0A0A0A" stroke="#0A0A0A" stroke-width="0.18">34.37</text>
<text x="1544.34" y="1876.55" font-family='"DejaVu Sans", Verdana, "Liberation Sans", sans-serif' font-size="14.5" font-weight="normal" text-anchor="middle" fill="#0A0A0A" stroke="#0A0A0A" stroke-width="0.18">35.37</text>
<text x="1637.33" y="1876.55" font-family='"DejaVu Sans", Verdana, "Liberation Sans", sans-serif' font-size="14.5" font-weight="normal" text-anchor="middle" fill="#0A0A0A" stroke="#0A0A0A" stroke-width="0.18">65.86</text>
<text x="1730.32" y="1876.55" font-family='"DejaVu Sans", Verdana, "Liberation Sans", sans-serif' font-size="14.5" font-weight="normal" text-anchor="middle" fill="#0A0A0A" stroke="#0A0A0A" stroke-width="0.18">78.29</text>
<text x="1823.31" y="1876.55" font-family='"DejaVu Sans", Verdana, "Liberation Sans", sans-serif' font-size="14.5" font-weight="normal" text-anchor="middle" fill="#0A0A0A" stroke="#0A0A0A" stroke-width="0.18">83.54</text>
<line x1="1114.60" y1="1870.45" x2="1120.00" y2="1870.45" stroke="#333333" stroke-width="1.3" />
<text transform="translate(1111.30 1875.55) scale(1 1.04)" x="0" y="0" font-family='"Liberation Sans", Arial, Helvetica, sans-serif' font-size="14" font-weight="normal" text-anchor="end" fill="#4D4D4D" >0</text>
<line x1="1172.39" y1="1982.60" x2="1172.39" y2="1987.90" stroke="#333333" stroke-width="1.3" />
<text transform="translate(1172.39 2005.20) scale(1 1.04)" x="0" y="0" font-family='"Liberation Sans", Arial, Helvetica, sans-serif' font-size="14" font-weight="normal" text-anchor="middle" fill="#4D4D4D" >0.005</text>
<line x1="1265.38" y1="1982.60" x2="1265.38" y2="1987.90" stroke="#333333" stroke-width="1.3" />
<text transform="translate(1265.38 2005.20) scale(1 1.04)" x="0" y="0" font-family='"Liberation Sans", Arial, Helvetica, sans-serif' font-size="14" font-weight="normal" text-anchor="middle" fill="#4D4D4D" >0.01</text>
<line x1="1358.37" y1="1982.60" x2="1358.37" y2="1987.90" stroke="#333333" stroke-width="1.3" />
<text transform="translate(1358.37 2005.20) scale(1 1.04)" x="0" y="0" font-family='"Liberation Sans", Arial, Helvetica, sans-serif' font-size="14" font-weight="normal" text-anchor="middle" fill="#4D4D4D" >0.1</text>
<line x1="1451.36" y1="1982.60" x2="1451.36" y2="1987.90" stroke="#333333" stroke-width="1.3" />
<text transform="translate(1451.36 2005.20) scale(1 1.04)" x="0" y="0" font-family='"Liberation Sans", Arial, Helvetica, sans-serif' font-size="14" font-weight="normal" text-anchor="middle" fill="#4D4D4D" >0.5</text>
<line x1="1544.34" y1="1982.60" x2="1544.34" y2="1987.90" stroke="#333333" stroke-width="1.3" />
<text transform="translate(1544.34 2005.20) scale(1 1.04)" x="0" y="0" font-family='"Liberation Sans", Arial, Helvetica, sans-serif' font-size="14" font-weight="normal" text-anchor="middle" fill="#4D4D4D" >1</text>
<line x1="1637.33" y1="1982.60" x2="1637.33" y2="1987.90" stroke="#333333" stroke-width="1.3" />
<text transform="translate(1637.33 2005.20) scale(1 1.04)" x="0" y="0" font-family='"Liberation Sans", Arial, Helvetica, sans-serif' font-size="14" font-weight="normal" text-anchor="middle" fill="#4D4D4D" >5</text>
<line x1="1730.32" y1="1982.60" x2="1730.32" y2="1987.90" stroke="#333333" stroke-width="1.3" />
<text transform="translate(1730.32 2005.20) scale(1 1.04)" x="0" y="0" font-family='"Liberation Sans", Arial, Helvetica, sans-serif' font-size="14" font-weight="normal" text-anchor="middle" fill="#4D4D4D" >10</text>
<line x1="1823.31" y1="1982.60" x2="1823.31" y2="1987.90" stroke="#333333" stroke-width="1.3" />
<text transform="translate(1823.31 2005.20) scale(1 1.04)" x="0" y="0" font-family='"Liberation Sans", Arial, Helvetica, sans-serif' font-size="14" font-weight="normal" text-anchor="middle" fill="#4D4D4D" >25</text>
<text x="1497.85" y="2030.60" font-family='"Liberation Sans", Arial, Helvetica, sans-serif' font-size="14" font-weight="normal" text-anchor="middle" fill="#4D4D4D" >Fulzerasib (uM)</text>
<text transform="translate(1079.90 1764.90) rotate(-90)" x="0" y="5.00" font-family='"Liberation Sans", Arial, Helvetica, sans-serif' font-size="14.2" text-anchor="middle" fill="#4D4D4D">Cetuximab (uM)</text>
<linearGradient id="g4" x1="0" y1="0" x2="0" y2="1"><stop offset="0.0000" stop-color="#FF2116"/><stop offset="0.0208" stop-color="#FF2115"/><stop offset="0.0417" stop-color="#FF2319"/><stop offset="0.0625" stop-color="#FF2A26"/><stop offset="0.0833" stop-color="#FF3031"/><stop offset="0.1042" stop-color="#FD3539"/><stop offset="0.1250" stop-color="#FA3E42"/><stop offset="0.1458" stop-color="#F9474C"/><stop offset="0.1667" stop-color="#F85157"/><stop offset="0.1875" stop-color="#F55B61"/><stop offset="0.2083" stop-color="#F3666B"/><stop offset="0.2292" stop-color="#F27075"/><stop offset="0.2500" stop-color="#F27B80"/><stop offset="0.2708" stop-color="#F2868A"/><stop offset="0.2917" stop-color="#F29094"/><stop offset="0.3125" stop-color="#F19B9F"/><stop offset="0.3333" stop-color="#F2A6AA"/><stop offset="0.3542" stop-color="#F2B1B5"/><stop offset="0.3750" stop-color="#F4BCC0"/><stop offset="0.3958" stop-color="#F5C7CB"/><stop offset="0.4167" stop-color="#F6D2D6"/><stop offset="0.4375" stop-color="#F6DDE0"/><stop offset="0.4583" stop-color="#F8E9EA"/><stop offset="0.4792" stop-color="#FBF4F5"/><stop offset="0.5000" stop-color="#FFFFFF"/><stop offset="0.5208" stop-color="#F7FFF5"/><stop offset="0.5417" stop-color="#EFFFEB"/><stop offset="0.5625" stop-color="#E7FFE1"/><stop offset="0.5833" stop-color="#E0FFD7"/><stop offset="0.6042" stop-color="#D8FFCD"/><stop offset="0.6250" stop-color="#D0FFC3"/><stop offset="0.6458" stop-color="#C8FFB9"/><stop offset="0.6667" stop-color="#C0FFAF"/><stop offset="0.6875" stop-color="#B8FFA5"/><stop offset="0.7083" stop-color="#B0FF9B"/><stop offset="0.7292" stop-color="#A8FF91"/><stop offset="0.7500" stop-color="#A0FF86"/><stop offset="0.7708" stop-color="#99FF7C"/><stop offset="0.7917" stop-color="#91FF72"/><stop offset="0.8125" stop-color="#89FF68"/><stop offset="0.8333" stop-color="#81FF5E"/><stop offset="0.8542" stop-color="#79FF54"/><stop offset="0.8750" stop-color="#71FF4A"/><stop offset="0.8958" stop-color="#69FF40"/><stop offset="0.9167" stop-color="#62FF36"/><stop offset="0.9375" stop-color="#5AFF2C"/><stop offset="0.9583" stop-color="#52FF22"/><stop offset="0.9792" stop-color="#4AFF18"/><stop offset="1.0000" stop-color="#42FF0E"/></linearGradient>
<rect x="1882.00" y="1693.80" width="34.30" height="164.80" fill="url(#g4)"/>
<text x="1881.40" y="1684.60" font-family='"Liberation Sans", Arial, Helvetica, sans-serif' font-size="14.3" font-weight="normal" text-anchor="start" fill="#4D4D4D" >Inhibition (%)</text>
<text x="1921.90" y="1734.97" font-family='"Liberation Sans", Arial, Helvetica, sans-serif' font-size="14" font-weight="normal" text-anchor="start" fill="#4D4D4D" >50</text>
<text x="1921.90" y="1781.00" font-family='"Liberation Sans", Arial, Helvetica, sans-serif' font-size="14" font-weight="normal" text-anchor="start" fill="#4D4D4D" >0</text>
<text x="1921.90" y="1827.03" font-family='"Liberation Sans", Arial, Helvetica, sans-serif' font-size="14" font-weight="normal" text-anchor="start" fill="#4D4D4D" >−50</text>
<rect x="203.70" y="2058.00" width="94.68" height="215.00" fill="#FAF1F2"/>
<rect x="297.77" y="2058.00" width="94.68" height="215.00" fill="#F8E7E9"/>
<rect x="391.85" y="2058.00" width="94.68" height="215.00" fill="#F5D1D5"/>
<rect x="485.92" y="2058.00" width="94.68" height="215.00" fill="#F5CACE"/>
<rect x="580.00" y="2058.00" width="94.67" height="215.00" fill="#F5C8CC"/>
<rect x="674.07" y="2058.00" width="94.67" height="215.00" fill="#F2ABAE"/>
<rect x="768.15" y="2058.00" width="94.68" height="215.00" fill="#F29094"/>
<rect x="862.22" y="2058.00" width="94.08" height="215.00" fill="#FB3A3D"/>
<rect x="203.70" y="2272.40" width="94.68" height="214.20" fill="#FDF9F9"/>
<rect x="297.77" y="2272.40" width="94.68" height="214.20" fill="#FCF7F7"/>
<rect x="391.85" y="2272.40" width="94.68" height="214.20" fill="#FAF3F3"/>
<rect x="485.92" y="2272.40" width="94.68" height="214.20" fill="#FCF7F8"/>
<rect x="580.00" y="2272.40" width="94.67" height="214.20" fill="#FAF2F3"/>
<rect x="674.07" y="2272.40" width="94.67" height="214.20" fill="#F6D7DA"/>
<rect x="768.15" y="2272.40" width="94.68" height="214.20" fill="#F4BEC1"/>
<rect x="862.22" y="2272.40" width="94.08" height="214.20" fill="#F3656A"/>
<text x="250.74" y="2171.00" font-family='"DejaVu Sans", Verdana, "Liberation Sans", sans-serif' font-size="14.5" font-weight="normal" text-anchor="middle" fill="#0A0A0A" stroke="#0A0A0A" stroke-width="0.18">3</text>
<text x="344.81" y="2171.00" font-family='"DejaVu Sans", Verdana, "Liberation Sans", sans-serif' font-size="14.5" font-weight="normal" text-anchor="middle" fill="#0A0A0A" stroke="#0A0A0A" stroke-width="0.18">5.33</text>
<text x="438.89" y="2171.00" font-family='"DejaVu Sans", Verdana, "Liberation Sans", sans-serif' font-size="14.5" font-weight="normal" text-anchor="middle" fill="#0A0A0A" stroke="#0A0A0A" stroke-width="0.18">10.12</text>
<text x="532.96" y="2171.00" font-family='"DejaVu Sans", Verdana, "Liberation Sans", sans-serif' font-size="14.5" font-weight="normal" text-anchor="middle" fill="#0A0A0A" stroke="#0A0A0A" stroke-width="0.18">11.66</text>
<text x="627.04" y="2171.00" font-family='"DejaVu Sans", Verdana, "Liberation Sans", sans-serif' font-size="14.5" font-weight="normal" text-anchor="middle" fill="#0A0A0A" stroke="#0A0A0A" stroke-width="0.18">12.27</text>
<text x="721.11" y="2171.00" font-family='"DejaVu Sans", Verdana, "Liberation Sans", sans-serif' font-size="14.5" font-weight="normal" text-anchor="middle" fill="#0A0A0A" stroke="#0A0A0A" stroke-width="0.18">18.77</text>
<text x="815.19" y="2171.00" font-family='"DejaVu Sans", Verdana, "Liberation Sans", sans-serif' font-size="14.5" font-weight="normal" text-anchor="middle" fill="#0A0A0A" stroke="#0A0A0A" stroke-width="0.18">24.94</text>
<text x="909.26" y="2171.00" font-family='"DejaVu Sans", Verdana, "Liberation Sans", sans-serif' font-size="14.5" font-weight="normal" text-anchor="middle" fill="#0A0A0A" stroke="#0A0A0A" stroke-width="0.18">45.76</text>
<line x1="192.40" y1="2164.90" x2="197.80" y2="2164.90" stroke="#333333" stroke-width="1.3" />
<text transform="translate(189.10 2170.00) scale(1 1.04)" x="0" y="0" font-family='"Liberation Sans", Arial, Helvetica, sans-serif' font-size="14" font-weight="normal" text-anchor="end" fill="#4D4D4D" >50</text>
<text x="250.74" y="2385.30" font-family='"DejaVu Sans", Verdana, "Liberation Sans", sans-serif' font-size="14.5" font-weight="normal" text-anchor="middle" fill="#0A0A0A" stroke="#0A0A0A" stroke-width="0.18">1.34</text>
<text x="344.81" y="2385.30" font-family='"DejaVu Sans", Verdana, "Liberation Sans", sans-serif' font-size="14.5" font-weight="normal" text-anchor="middle" fill="#0A0A0A" stroke="#0A0A0A" stroke-width="0.18">1.81</text>
<text x="438.89" y="2385.30" font-family='"DejaVu Sans", Verdana, "Liberation Sans", sans-serif' font-size="14.5" font-weight="normal" text-anchor="middle" fill="#0A0A0A" stroke="#0A0A0A" stroke-width="0.18">2.76</text>
<text x="532.96" y="2385.30" font-family='"DejaVu Sans", Verdana, "Liberation Sans", sans-serif' font-size="14.5" font-weight="normal" text-anchor="middle" fill="#0A0A0A" stroke="#0A0A0A" stroke-width="0.18">1.76</text>
<text x="627.04" y="2385.30" font-family='"DejaVu Sans", Verdana, "Liberation Sans", sans-serif' font-size="14.5" font-weight="normal" text-anchor="middle" fill="#0A0A0A" stroke="#0A0A0A" stroke-width="0.18">2.96</text>
<text x="721.11" y="2385.30" font-family='"DejaVu Sans", Verdana, "Liberation Sans", sans-serif' font-size="14.5" font-weight="normal" text-anchor="middle" fill="#0A0A0A" stroke="#0A0A0A" stroke-width="0.18">8.87</text>
<text x="815.19" y="2385.30" font-family='"DejaVu Sans", Verdana, "Liberation Sans", sans-serif' font-size="14.5" font-weight="normal" text-anchor="middle" fill="#0A0A0A" stroke="#0A0A0A" stroke-width="0.18">14.51</text>
<text x="909.26" y="2385.30" font-family='"DejaVu Sans", Verdana, "Liberation Sans", sans-serif' font-size="14.5" font-weight="normal" text-anchor="middle" fill="#0A0A0A" stroke="#0A0A0A" stroke-width="0.18">35.03</text>
<line x1="192.40" y1="2379.20" x2="197.80" y2="2379.20" stroke="#333333" stroke-width="1.3" />
<text transform="translate(189.10 2384.30) scale(1 1.04)" x="0" y="0" font-family='"Liberation Sans", Arial, Helvetica, sans-serif' font-size="14" font-weight="normal" text-anchor="end" fill="#4D4D4D" >0</text>
<line x1="250.74" y1="2493.40" x2="250.74" y2="2498.70" stroke="#333333" stroke-width="1.3" />
<text transform="translate(250.74 2516.00) scale(1 1.04)" x="0" y="0" font-family='"Liberation Sans", Arial, Helvetica, sans-serif' font-size="14" font-weight="normal" text-anchor="middle" fill="#4D4D4D" >0.005</text>
<line x1="344.81" y1="2493.40" x2="344.81" y2="2498.70" stroke="#333333" stroke-width="1.3" />
<text transform="translate(344.81 2516.00) scale(1 1.04)" x="0" y="0" font-family='"Liberation Sans", Arial, Helvetica, sans-serif' font-size="14" font-weight="normal" text-anchor="middle" fill="#4D4D4D" >0.01</text>
<line x1="438.89" y1="2493.40" x2="438.89" y2="2498.70" stroke="#333333" stroke-width="1.3" />
<text transform="translate(438.89 2516.00) scale(1 1.04)" x="0" y="0" font-family='"Liberation Sans", Arial, Helvetica, sans-serif' font-size="14" font-weight="normal" text-anchor="middle" fill="#4D4D4D" >0.1</text>
<line x1="532.96" y1="2493.40" x2="532.96" y2="2498.70" stroke="#333333" stroke-width="1.3" />
<text transform="translate(532.96 2516.00) scale(1 1.04)" x="0" y="0" font-family='"Liberation Sans", Arial, Helvetica, sans-serif' font-size="14" font-weight="normal" text-anchor="middle" fill="#4D4D4D" >0.5</text>
<line x1="627.04" y1="2493.40" x2="627.04" y2="2498.70" stroke="#333333" stroke-width="1.3" />
<text transform="translate(627.04 2516.00) scale(1 1.04)" x="0" y="0" font-family='"Liberation Sans", Arial, Helvetica, sans-serif' font-size="14" font-weight="normal" text-anchor="middle" fill="#4D4D4D" >1</text>
<line x1="721.11" y1="2493.40" x2="721.11" y2="2498.70" stroke="#333333" stroke-width="1.3" />
<text transform="translate(721.11 2516.00) scale(1 1.04)" x="0" y="0" font-family='"Liberation Sans", Arial, Helvetica, sans-serif' font-size="14" font-weight="normal" text-anchor="middle" fill="#4D4D4D" >5</text>
<line x1="815.19" y1="2493.40" x2="815.19" y2="2498.70" stroke="#333333" stroke-width="1.3" />
<text transform="translate(815.19 2516.00) scale(1 1.04)" x="0" y="0" font-family='"Liberation Sans", Arial, Helvetica, sans-serif' font-size="14" font-weight="normal" text-anchor="middle" fill="#4D4D4D" >10</text>
<line x1="909.26" y1="2493.40" x2="909.26" y2="2498.70" stroke="#333333" stroke-width="1.3" />
<text transform="translate(909.26 2516.00) scale(1 1.04)" x="0" y="0" font-family='"Liberation Sans", Arial, Helvetica, sans-serif' font-size="14" font-weight="normal" text-anchor="middle" fill="#4D4D4D" >25</text>
<text x="580.00" y="2540.60" font-family='"Liberation Sans", Arial, Helvetica, sans-serif' font-size="14" font-weight="normal" text-anchor="middle" fill="#4D4D4D" >Sotorasib (uM)</text>
<text transform="translate(157.70 2272.40) rotate(-90)" x="0" y="5.00" font-family='"Liberation Sans", Arial, Helvetica, sans-serif' font-size="14.2" text-anchor="middle" fill="#4D4D4D">Cetuximab (uM)</text>
<linearGradient id="g5" x1="0" y1="0" x2="0" y2="1"><stop offset="0.0000" stop-color="#FF2116"/><stop offset="0.0208" stop-color="#FF2115"/><stop offset="0.0417" stop-color="#FF2319"/><stop offset="0.0625" stop-color="#FF2A26"/><stop offset="0.0833" stop-color="#FF3031"/><stop offset="0.1042" stop-color="#FD3539"/><stop offset="0.1250" stop-color="#FA3E42"/><stop offset="0.1458" stop-color="#F9474C"/><stop offset="0.1667" stop-color="#F85157"/><stop offset="0.1875" stop-color="#F55B61"/><stop offset="0.2083" stop-color="#F3666B"/><stop offset="0.2292" stop-color="#F27075"/><stop offset="0.2500" stop-color="#F27B80"/><stop offset="0.2708" stop-color="#F2868A"/><stop offset="0.2917" stop-color="#F29094"/><stop offset="0.3125" stop-color="#F19B9F"/><stop offset="0.3333" stop-color="#F2A6AA"/><stop offset="0.3542" stop-color="#F2B1B5"/><stop offset="0.3750" stop-color="#F4BCC0"/><stop offset="0.3958" stop-color="#F5C7CB"/><stop offset="0.4167" stop-color="#F6D2D6"/><stop offset="0.4375" stop-color="#F6DDE0"/><stop offset="0.4583" stop-color="#F8E9EA"/><stop offset="0.4792" stop-color="#FBF4F5"/><stop offset="0.5000" stop-color="#FFFFFF"/><stop offset="0.5208" stop-color="#F7FFF5"/><stop offset="0.5417" stop-color="#EFFFEB"/><stop offset="0.5625" stop-color="#E7FFE1"/><stop offset="0.5833" stop-color="#E0FFD7"/><stop offset="0.6042" stop-color="#D8FFCD"/><stop offset="0.6250" stop-color="#D0FFC3"/><stop offset="0.6458" stop-color="#C8FFB9"/><stop offset="0.6667" stop-color="#C0FFAF"/><stop offset="0.6875" stop-color="#B8FFA5"/><stop offset="0.7083" stop-color="#B0FF9B"/><stop offset="0.7292" stop-color="#A8FF91"/><stop offset="0.7500" stop-color="#A0FF86"/><stop offset="0.7708" stop-color="#99FF7C"/><stop offset="0.7917" stop-color="#91FF72"/><stop offset="0.8125" stop-color="#89FF68"/><stop offset="0.8333" stop-color="#81FF5E"/><stop offset="0.8542" stop-color="#79FF54"/><stop offset="0.8750" stop-color="#71FF4A"/><stop offset="0.8958" stop-color="#69FF40"/><stop offset="0.9167" stop-color="#62FF36"/><stop offset="0.9375" stop-color="#5AFF2C"/><stop offset="0.9583" stop-color="#52FF22"/><stop offset="0.9792" stop-color="#4AFF18"/><stop offset="1.0000" stop-color="#42FF0E"/></linearGradient>
<rect x="968.60" y="2200.60" width="34.70" height="166.40" fill="url(#g5)"/>
<text x="968.00" y="2191.40" font-family='"Liberation Sans", Arial, Helvetica, sans-serif' font-size="14.3" font-weight="normal" text-anchor="start" fill="#4D4D4D" >Inhibition (%)</text>
<text x="1008.90" y="2218.68" font-family='"Liberation Sans", Arial, Helvetica, sans-serif' font-size="14" font-weight="normal" text-anchor="start" fill="#4D4D4D" >50</text>
<text x="1008.90" y="2288.60" font-family='"Liberation Sans", Arial, Helvetica, sans-serif' font-size="14" font-weight="normal" text-anchor="start" fill="#4D4D4D" >0</text>
<text x="1008.90" y="2358.52" font-family='"Liberation Sans", Arial, Helvetica, sans-serif' font-size="14" font-weight="normal" text-anchor="start" fill="#4D4D4D" >−50</text>
<rect x="1126.60" y="2058.30" width="93.70" height="213.30" fill="#F8EAEB"/>
<rect x="1219.70" y="2058.30" width="93.70" height="213.30" fill="#F7E3E5"/>
<rect x="1312.80" y="2058.30" width="93.70" height="213.30" fill="#F5C6C9"/>
<rect x="1405.90" y="2058.30" width="93.70" height="213.30" fill="#F5CCD0"/>
<rect x="1499.00" y="2058.30" width="93.70" height="213.30" fill="#F5CBCF"/>
<rect x="1592.10" y="2058.30" width="93.70" height="213.30" fill="#F2A8AB"/>
<rect x="1685.20" y="2058.30" width="93.70" height="213.30" fill="#F84F55"/>
<rect x="1778.30" y="2058.30" width="93.10" height="213.30" fill="#FF3134"/>
<rect x="1126.60" y="2271.00" width="93.70" height="212.20" fill="#FEFDFD"/>
<rect x="1219.70" y="2271.00" width="93.70" height="212.20" fill="#FCF6F7"/>
<rect x="1312.80" y="2271.00" width="93.70" height="212.20" fill="#FCF7F7"/>
<rect x="1405.90" y="2271.00" width="93.70" height="212.20" fill="#FCF7F7"/>
<rect x="1499.00" y="2271.00" width="93.70" height="212.20" fill="#FBF4F5"/>
<rect x="1592.10" y="2271.00" width="93.70" height="212.20" fill="#F19EA2"/>
<rect x="1685.20" y="2271.00" width="93.70" height="212.20" fill="#F27176"/>
<rect x="1778.30" y="2271.00" width="93.10" height="212.20" fill="#FB393C"/>
<text x="1173.15" y="2170.45" font-family='"DejaVu Sans", Verdana, "Liberation Sans", sans-serif' font-size="14.5" font-weight="normal" text-anchor="middle" fill="#0A0A0A" stroke="#0A0A0A" stroke-width="0.18">5.53</text>
<text x="1266.25" y="2170.45" font-family='"DejaVu Sans", Verdana, "Liberation Sans", sans-serif' font-size="14.5" font-weight="normal" text-anchor="middle" fill="#0A0A0A" stroke="#0A0A0A" stroke-width="0.18">7.13</text>
<text x="1359.35" y="2170.45" font-family='"DejaVu Sans", Verdana, "Liberation Sans", sans-serif' font-size="14.5" font-weight="normal" text-anchor="middle" fill="#0A0A0A" stroke="#0A0A0A" stroke-width="0.18">14.9</text>
<text x="1452.45" y="2170.45" font-family='"DejaVu Sans", Verdana, "Liberation Sans", sans-serif' font-size="14.5" font-weight="normal" text-anchor="middle" fill="#0A0A0A" stroke="#0A0A0A" stroke-width="0.18">13.27</text>
<text x="1545.55" y="2170.45" font-family='"DejaVu Sans", Verdana, "Liberation Sans", sans-serif' font-size="14.5" font-weight="normal" text-anchor="middle" fill="#0A0A0A" stroke="#0A0A0A" stroke-width="0.18">13.48</text>
<text x="1638.65" y="2170.45" font-family='"DejaVu Sans", Verdana, "Liberation Sans", sans-serif' font-size="14.5" font-weight="normal" text-anchor="middle" fill="#0A0A0A" stroke="#0A0A0A" stroke-width="0.18">22.75</text>
<text x="1731.75" y="2170.45" font-family='"DejaVu Sans", Verdana, "Liberation Sans", sans-serif' font-size="14.5" font-weight="normal" text-anchor="middle" fill="#0A0A0A" stroke="#0A0A0A" stroke-width="0.18">46.86</text>
<text x="1824.85" y="2170.45" font-family='"DejaVu Sans", Verdana, "Liberation Sans", sans-serif' font-size="14.5" font-weight="normal" text-anchor="middle" fill="#0A0A0A" stroke="#0A0A0A" stroke-width="0.18">57.1</text>
<line x1="1115.30" y1="2164.35" x2="1120.70" y2="2164.35" stroke="#333333" stroke-width="1.3" />
<text transform="translate(1112.00 2169.45) scale(1 1.04)" x="0" y="0" font-family='"Liberation Sans", Arial, Helvetica, sans-serif' font-size="14" font-weight="normal" text-anchor="end" fill="#4D4D4D" >50</text>
<text x="1173.15" y="2382.90" font-family='"DejaVu Sans", Verdana, "Liberation Sans", sans-serif' font-size="14.5" font-weight="normal" text-anchor="middle" fill="#0A0A0A" stroke="#0A0A0A" stroke-width="0.18">0.6</text>
<text x="1266.25" y="2382.90" font-family='"DejaVu Sans", Verdana, "Liberation Sans", sans-serif' font-size="14.5" font-weight="normal" text-anchor="middle" fill="#0A0A0A" stroke="#0A0A0A" stroke-width="0.18">2.29</text>
<text x="1359.35" y="2382.90" font-family='"DejaVu Sans", Verdana, "Liberation Sans", sans-serif' font-size="14.5" font-weight="normal" text-anchor="middle" fill="#0A0A0A" stroke="#0A0A0A" stroke-width="0.18">2.17</text>
<text x="1452.45" y="2382.90" font-family='"DejaVu Sans", Verdana, "Liberation Sans", sans-serif' font-size="14.5" font-weight="normal" text-anchor="middle" fill="#0A0A0A" stroke="#0A0A0A" stroke-width="0.18">2.13</text>
<text x="1545.55" y="2382.90" font-family='"DejaVu Sans", Verdana, "Liberation Sans", sans-serif' font-size="14.5" font-weight="normal" text-anchor="middle" fill="#0A0A0A" stroke="#0A0A0A" stroke-width="0.18">2.79</text>
<text x="1638.65" y="2382.90" font-family='"DejaVu Sans", Verdana, "Liberation Sans", sans-serif' font-size="14.5" font-weight="normal" text-anchor="middle" fill="#0A0A0A" stroke="#0A0A0A" stroke-width="0.18">25.31</text>
<text x="1731.75" y="2382.90" font-family='"DejaVu Sans", Verdana, "Liberation Sans", sans-serif' font-size="14.5" font-weight="normal" text-anchor="middle" fill="#0A0A0A" stroke="#0A0A0A" stroke-width="0.18">37.48</text>
<text x="1824.85" y="2382.90" font-family='"DejaVu Sans", Verdana, "Liberation Sans", sans-serif' font-size="14.5" font-weight="normal" text-anchor="middle" fill="#0A0A0A" stroke="#0A0A0A" stroke-width="0.18">53.56</text>
<line x1="1115.30" y1="2376.80" x2="1120.70" y2="2376.80" stroke="#333333" stroke-width="1.3" />
<text transform="translate(1112.00 2381.90) scale(1 1.04)" x="0" y="0" font-family='"Liberation Sans", Arial, Helvetica, sans-serif' font-size="14" font-weight="normal" text-anchor="end" fill="#4D4D4D" >0</text>
<line x1="1173.15" y1="2489.20" x2="1173.15" y2="2494.50" stroke="#333333" stroke-width="1.3" />
<text transform="translate(1173.15 2511.80) scale(1 1.04)" x="0" y="0" font-family='"Liberation Sans", Arial, Helvetica, sans-serif' font-size="14" font-weight="normal" text-anchor="middle" fill="#4D4D4D" >0.005</text>
<line x1="1266.25" y1="2489.20" x2="1266.25" y2="2494.50" stroke="#333333" stroke-width="1.3" />
<text transform="translate(1266.25 2511.80) scale(1 1.04)" x="0" y="0" font-family='"Liberation Sans", Arial, Helvetica, sans-serif' font-size="14" font-weight="normal" text-anchor="middle" fill="#4D4D4D" >0.01</text>
<line x1="1359.35" y1="2489.20" x2="1359.35" y2="2494.50" stroke="#333333" stroke-width="1.3" />
<text transform="translate(1359.35 2511.80) scale(1 1.04)" x="0" y="0" font-family='"Liberation Sans", Arial, Helvetica, sans-serif' font-size="14" font-weight="normal" text-anchor="middle" fill="#4D4D4D" >0.1</text>
<line x1="1452.45" y1="2489.20" x2="1452.45" y2="2494.50" stroke="#333333" stroke-width="1.3" />
<text transform="translate(1452.45 2511.80) scale(1 1.04)" x="0" y="0" font-family='"Liberation Sans", Arial, Helvetica, sans-serif' font-size="14" font-weight="normal" text-anchor="middle" fill="#4D4D4D" >0.5</text>
<line x1="1545.55" y1="2489.20" x2="1545.55" y2="2494.50" stroke="#333333" stroke-width="1.3" />
<text transform="translate(1545.55 2511.80) scale(1 1.04)" x="0" y="0" font-family='"Liberation Sans", Arial, Helvetica, sans-serif' font-size="14" font-weight="normal" text-anchor="middle" fill="#4D4D4D" >1</text>
<line x1="1638.65" y1="2489.20" x2="1638.65" y2="2494.50" stroke="#333333" stroke-width="1.3" />
<text transform="translate(1638.65 2511.80) scale(1 1.04)" x="0" y="0" font-family='"Liberation Sans", Arial, Helvetica, sans-serif' font-size="14" font-weight="normal" text-anchor="middle" fill="#4D4D4D" >5</text>
<line x1="1731.75" y1="2489.20" x2="1731.75" y2="2494.50" stroke="#333333" stroke-width="1.3" />
<text transform="translate(1731.75 2511.80) scale(1 1.04)" x="0" y="0" font-family='"Liberation Sans", Arial, Helvetica, sans-serif' font-size="14" font-weight="normal" text-anchor="middle" fill="#4D4D4D" >10</text>
<line x1="1824.85" y1="2489.20" x2="1824.85" y2="2494.50" stroke="#333333" stroke-width="1.3" />
<text transform="translate(1824.85 2511.80) scale(1 1.04)" x="0" y="0" font-family='"Liberation Sans", Arial, Helvetica, sans-serif' font-size="14" font-weight="normal" text-anchor="middle" fill="#4D4D4D" >25</text>
<text x="1499.00" y="2537.20" font-family='"Liberation Sans", Arial, Helvetica, sans-serif' font-size="14" font-weight="normal" text-anchor="middle" fill="#4D4D4D" >Fulzerasib (uM)</text>
<text transform="translate(1080.60 2271.00) rotate(-90)" x="0" y="5.00" font-family='"Liberation Sans", Arial, Helvetica, sans-serif' font-size="14.2" text-anchor="middle" fill="#4D4D4D">Cetuximab (uM)</text>
<linearGradient id="g6" x1="0" y1="0" x2="0" y2="1"><stop offset="0.0000" stop-color="#FF2116"/><stop offset="0.0208" stop-color="#FF2115"/><stop offset="0.0417" stop-color="#FF2319"/><stop offset="0.0625" stop-color="#FF2A26"/><stop offset="0.0833" stop-color="#FF3031"/><stop offset="0.1042" stop-color="#FD3539"/><stop offset="0.1250" stop-color="#FA3E42"/><stop offset="0.1458" stop-color="#F9474C"/><stop offset="0.1667" stop-color="#F85157"/><stop offset="0.1875" stop-color="#F55B61"/><stop offset="0.2083" stop-color="#F3666B"/><stop offset="0.2292" stop-color="#F27075"/><stop offset="0.2500" stop-color="#F27B80"/><stop offset="0.2708" stop-color="#F2868A"/><stop offset="0.2917" stop-color="#F29094"/><stop offset="0.3125" stop-color="#F19B9F"/><stop offset="0.3333" stop-color="#F2A6AA"/><stop offset="0.3542" stop-color="#F2B1B5"/><stop offset="0.3750" stop-color="#F4BCC0"/><stop offset="0.3958" stop-color="#F5C7CB"/><stop offset="0.4167" stop-color="#F6D2D6"/><stop offset="0.4375" stop-color="#F6DDE0"/><stop offset="0.4583" stop-color="#F8E9EA"/><stop offset="0.4792" stop-color="#FBF4F5"/><stop offset="0.5000" stop-color="#FFFFFF"/><stop offset="0.5208" stop-color="#F7FFF5"/><stop offset="0.5417" stop-color="#EFFFEB"/><stop offset="0.5625" stop-color="#E7FFE1"/><stop offset="0.5833" stop-color="#E0FFD7"/><stop offset="0.6042" stop-color="#D8FFCD"/><stop offset="0.6250" stop-color="#D0FFC3"/><stop offset="0.6458" stop-color="#C8FFB9"/><stop offset="0.6667" stop-color="#C0FFAF"/><stop offset="0.6875" stop-color="#B8FFA5"/><stop offset="0.7083" stop-color="#B0FF9B"/><stop offset="0.7292" stop-color="#A8FF91"/><stop offset="0.7500" stop-color="#A0FF86"/><stop offset="0.7708" stop-color="#99FF7C"/><stop offset="0.7917" stop-color="#91FF72"/><stop offset="0.8125" stop-color="#89FF68"/><stop offset="0.8333" stop-color="#81FF5E"/><stop offset="0.8542" stop-color="#79FF54"/><stop offset="0.8750" stop-color="#71FF4A"/><stop offset="0.8958" stop-color="#69FF40"/><stop offset="0.9167" stop-color="#62FF36"/><stop offset="0.9375" stop-color="#5AFF2C"/><stop offset="0.9583" stop-color="#52FF22"/><stop offset="0.9792" stop-color="#4AFF18"/><stop offset="1.0000" stop-color="#42FF0E"/></linearGradient>
<rect x="1883.70" y="2199.50" width="34.60" height="165.30" fill="url(#g6)"/>
<text x="1883.10" y="2190.30" font-family='"Liberation Sans", Arial, Helvetica, sans-serif' font-size="14.3" font-weight="normal" text-anchor="start" fill="#4D4D4D" >Inhibition (%)</text>
<text x="1923.90" y="2227.49" font-family='"Liberation Sans", Arial, Helvetica, sans-serif' font-size="14" font-weight="normal" text-anchor="start" fill="#4D4D4D" >50</text>
<text x="1923.90" y="2286.95" font-family='"Liberation Sans", Arial, Helvetica, sans-serif' font-size="14" font-weight="normal" text-anchor="start" fill="#4D4D4D" >0</text>
<text x="1923.90" y="2346.41" font-family='"Liberation Sans", Arial, Helvetica, sans-serif' font-size="14" font-weight="normal" text-anchor="start" fill="#4D4D4D" >−50</text>
<rect x="1352.13" y="1549.70" width="3.32" height="1.20" fill="#D4D4D6"/>
<rect x="1357.46" y="1549.70" width="2.96" height="1.20" fill="#D4D4D6"/>
<rect x="1363.03" y="1549.70" width="2.73" height="1.20" fill="#D4D4D6"/>
<rect x="1368.48" y="1549.70" width="6.16" height="1.20" fill="#D4D4D6"/>
<rect x="1377.61" y="1549.70" width="8.29" height="1.20" fill="#D4D4D6"/>
<rect x="1387.09" y="1549.70" width="2.73" height="1.20" fill="#D4D4D6"/>
<rect x="1392.77" y="1549.70" width="2.61" height="1.20" fill="#D4D4D6"/>
<rect x="1396.92" y="1549.70" width="2.84" height="1.20" fill="#D4D4D6"/>
<rect x="1410.78" y="1549.70" width="3.20" height="1.20" fill="#D4D4D6"/>
<rect x="1417.54" y="1549.70" width="5.92" height="1.20" fill="#D4D4D6"/>
<rect x="1426.18" y="1549.70" width="2.96" height="1.20" fill="#D4D4D6"/>
<rect x="1432.70" y="1549.70" width="5.33" height="1.20" fill="#D4D4D6"/>
<rect x="1442.18" y="1549.70" width="5.33" height="1.20" fill="#D4D4D6"/>
<text transform="translate(94.20 1247.40) rotate(-90)" x="0" y="17.20" font-family='"Liberation Sans", Arial, Helvetica, sans-serif' font-size="47.5" text-anchor="middle" fill="#000">H358</text>
<text transform="translate(94.00 1770.80) rotate(-90)" x="0" y="17.20" font-family='"Liberation Sans", Arial, Helvetica, sans-serif' font-size="47.5" text-anchor="middle" fill="#000">H23</text>
<text transform="translate(94.40 2281.60) rotate(-90)" x="0" y="17.20" font-family='"Liberation Sans", Arial, Helvetica, sans-serif' font-size="47.5" text-anchor="middle" fill="#000">H2030</text>
</svg>
</body>
</html>
